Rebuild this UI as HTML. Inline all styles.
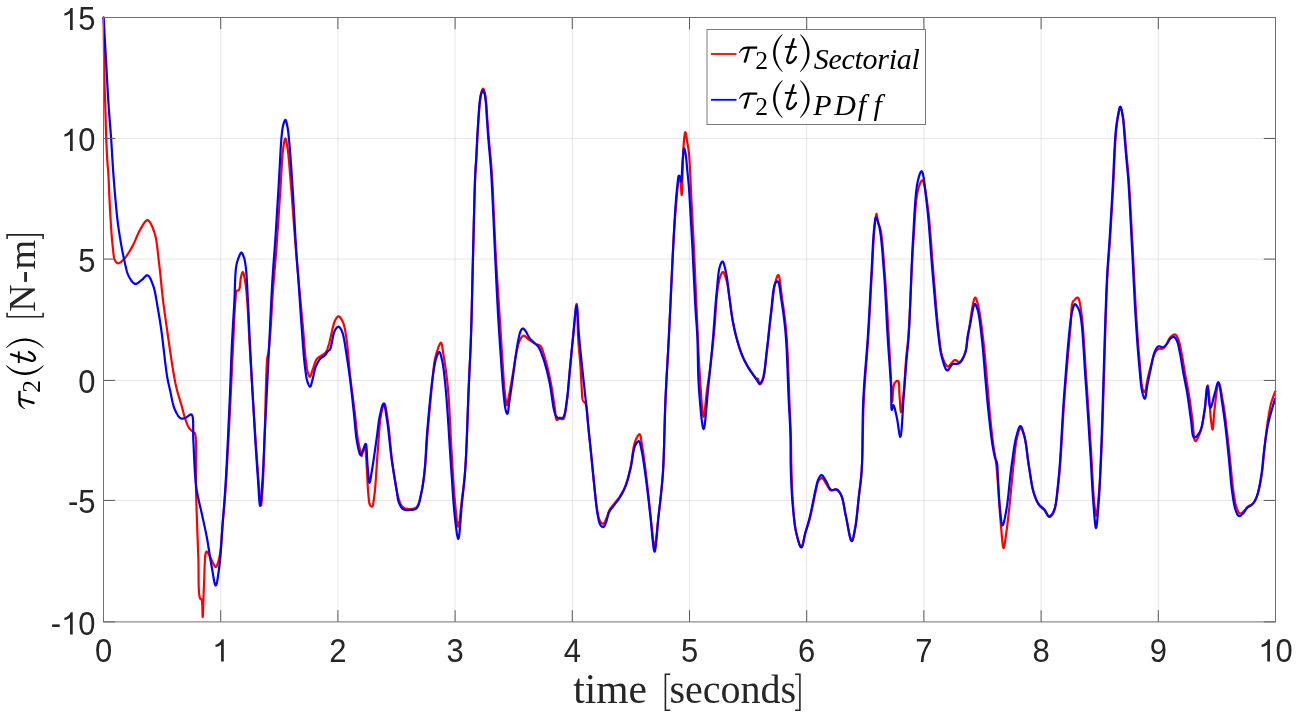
<!DOCTYPE html>
<html><head><meta charset="utf-8"><style>
html,body{margin:0;padding:0;background:#fff;overflow:hidden;}
svg{display:block;will-change:transform;}
.tk text{font-family:"Liberation Sans",sans-serif;font-size:31px;} .tk{fill:#262626;}
</style></head><body>
<svg width="1296" height="719" viewBox="0 0 1296 719">
<rect width="1296" height="719" fill="#fff"/>
<g fill="none" stroke-width="2.2" stroke-linejoin="round" stroke-linecap="round">
<path d="M103.60,17.50 L103.62,19.57 L103.69,25.16 L103.78,33.35 L103.90,43.26 L104.04,53.96 L104.19,64.55 L104.35,74.14 L104.50,81.80 L104.60,85.87 L104.71,89.66 L104.82,93.21 L104.94,96.62 L105.06,99.93 L105.18,103.22 L105.29,106.55 L105.40,110.00 L105.50,113.53 L105.59,117.07 L105.68,120.61 L105.77,124.15 L105.86,127.68 L105.96,131.20 L106.07,134.71 L106.20,138.20 L106.35,141.73 L106.51,145.45 L106.70,149.24 L106.88,152.97 L107.07,156.54 L107.26,159.81 L107.44,162.67 L107.60,165.00 L107.66,165.78 L107.73,166.41 L107.79,166.94 L107.85,167.43 L107.91,167.93 L107.97,168.49 L108.03,169.16 L108.10,170.00 L108.33,173.62 L108.58,178.52 L108.85,184.37 L109.14,190.85 L109.44,197.61 L109.75,204.33 L110.08,210.67 L110.40,216.30 L110.66,220.45 L110.92,224.55 L111.18,228.57 L111.45,232.48 L111.73,236.25 L112.03,239.84 L112.35,243.24 L112.70,246.40 L112.93,248.47 L113.13,250.51 L113.33,252.49 L113.55,254.37 L113.80,256.12 L114.11,257.72 L114.50,259.12 L115.00,260.30 L115.32,260.87 L115.65,261.41 L116.01,261.91 L116.39,262.35 L116.78,262.73 L117.20,263.02 L117.64,263.21 L118.10,263.30 L118.76,263.22 L119.49,262.93 L120.27,262.46 L121.07,261.84 L121.89,261.12 L122.71,260.34 L123.52,259.52 L124.30,258.70 L125.34,257.51 L126.38,256.17 L127.42,254.71 L128.44,253.15 L129.45,251.52 L130.45,249.83 L131.44,248.12 L132.40,246.40 L133.46,244.35 L134.48,242.15 L135.48,239.84 L136.45,237.51 L137.43,235.19 L138.42,232.96 L139.44,230.88 L140.50,229.00 L141.35,227.58 L142.22,226.09 L143.11,224.59 L144.01,223.19 L144.90,221.96 L145.79,221.00 L146.66,220.38 L147.50,220.20 L148.43,220.57 L149.37,221.47 L150.29,222.81 L151.20,224.47 L152.08,226.37 L152.91,228.41 L153.69,230.49 L154.40,232.50 L155.30,235.55 L156.04,238.94 L156.65,242.59 L157.17,246.45 L157.63,250.44 L158.07,254.50 L158.52,258.58 L159.00,262.60 L159.55,267.10 L160.07,271.76 L160.56,276.50 L161.04,281.30 L161.51,286.10 L161.99,290.85 L162.48,295.50 L163.00,300.00 L163.48,303.87 L163.96,307.59 L164.44,311.21 L164.93,314.81 L165.44,318.43 L165.97,322.13 L166.52,325.96 L167.10,330.00 L167.89,335.50 L168.75,341.52 L169.67,347.84 L170.61,354.24 L171.54,360.51 L172.45,366.42 L173.32,371.76 L174.10,376.30 L174.48,378.40 L174.84,380.28 L175.18,382.00 L175.51,383.61 L175.84,385.16 L176.20,386.70 L176.58,388.30 L177.00,390.00 L177.52,391.96 L178.08,393.98 L178.69,396.02 L179.31,398.07 L179.94,400.12 L180.55,402.13 L181.15,404.10 L181.70,406.00 L182.14,407.59 L182.55,409.15 L182.94,410.68 L183.32,412.19 L183.71,413.67 L184.11,415.13 L184.54,416.57 L185.00,418.00 L185.45,419.34 L185.91,420.70 L186.37,422.07 L186.86,423.40 L187.36,424.69 L187.90,425.90 L188.48,427.01 L189.10,428.00 L189.61,428.65 L190.17,429.25 L190.77,429.80 L191.38,430.30 L191.97,430.76 L192.54,431.20 L193.06,431.61 L193.50,432.00 L193.73,432.20 L193.94,432.35 L194.14,432.48 L194.33,432.60 L194.51,432.74 L194.67,432.92 L194.84,433.17 L195.00,433.50 L195.66,436.62 L196.02,441.77 L196.16,448.50 L196.14,456.35 L196.04,464.88 L195.94,473.63 L195.90,482.16 L196.00,490.00 L196.23,498.18 L196.49,506.65 L196.78,515.30 L197.08,523.98 L197.39,532.59 L197.71,541.00 L198.01,549.08 L198.30,556.70 L198.46,562.77 L198.53,569.18 L198.56,575.62 L198.61,581.82 L198.73,587.47 L198.97,592.30 L199.37,596.00 L200.00,598.30 L200.17,598.57 L200.36,598.74 L200.56,598.85 L200.76,598.93 L200.96,599.00 L201.15,599.10 L201.34,599.26 L201.50,599.50 L201.89,600.93 L202.16,603.23 L202.33,606.07 L202.43,609.14 L202.48,612.09 L202.53,614.60 L202.59,616.35 L202.70,617.00 L202.87,616.07 L203.02,613.51 L203.17,609.72 L203.30,605.04 L203.45,599.86 L203.60,594.55 L203.79,589.47 L204.00,585.00 L204.20,580.41 L204.36,575.19 L204.51,569.70 L204.69,564.32 L204.94,559.44 L205.30,555.42 L205.80,552.65 L206.50,551.50 L206.87,551.58 L207.29,551.95 L207.73,552.55 L208.20,553.31 L208.67,554.17 L209.14,555.07 L209.58,555.93 L210.00,556.70 L210.41,557.46 L210.79,558.25 L211.17,559.07 L211.53,559.90 L211.89,560.72 L212.25,561.52 L212.62,562.28 L213.00,563.00 L213.33,563.61 L213.67,564.28 L214.01,564.96 L214.35,565.61 L214.69,566.18 L215.03,566.63 L215.37,566.92 L215.70,567.00 L216.16,566.74 L216.63,566.11 L217.09,565.17 L217.54,563.97 L217.99,562.60 L218.41,561.10 L218.82,559.55 L219.20,558.00 L219.84,554.74 L220.38,550.87 L220.85,546.54 L221.25,541.90 L221.62,537.08 L221.97,532.23 L222.32,527.49 L222.70,523.00 L223.08,518.91 L223.44,514.97 L223.79,511.10 L224.14,507.21 L224.48,503.23 L224.82,499.09 L225.16,494.71 L225.50,490.00 L226.01,482.51 L226.52,474.39 L227.03,465.77 L227.54,456.78 L228.04,447.58 L228.54,438.29 L229.03,429.05 L229.50,420.00 L229.98,410.60 L230.45,400.95 L230.92,391.17 L231.38,381.38 L231.82,371.74 L232.26,362.35 L232.69,353.36 L233.10,344.90 L233.40,338.59 L233.68,332.26 L233.95,326.03 L234.22,320.02 L234.49,314.36 L234.77,309.15 L235.07,304.53 L235.40,300.60 L235.54,298.96 L235.64,297.38 L235.73,295.91 L235.83,294.55 L235.96,293.33 L236.15,292.29 L236.43,291.44 L236.80,290.80 L237.02,290.61 L237.28,290.51 L237.55,290.47 L237.84,290.46 L238.12,290.45 L238.40,290.41 L238.67,290.30 L238.90,290.10 L239.36,289.19 L239.71,287.81 L239.96,286.09 L240.16,284.15 L240.33,282.15 L240.51,280.20 L240.72,278.44 L241.00,277.00 L241.21,276.20 L241.43,275.36 L241.65,274.54 L241.88,273.77 L242.11,273.09 L242.35,272.56 L242.58,272.22 L242.80,272.10 L243.10,272.35 L243.40,273.02 L243.70,274.02 L244.00,275.26 L244.29,276.68 L244.58,278.18 L244.85,279.68 L245.10,281.10 L245.44,283.12 L245.74,285.25 L246.01,287.51 L246.27,289.88 L246.51,292.37 L246.74,294.99 L246.97,297.73 L247.20,300.60 L247.54,305.24 L247.85,310.30 L248.14,315.68 L248.42,321.32 L248.70,327.14 L248.98,333.06 L249.28,339.01 L249.60,344.90 L249.99,351.48 L250.39,358.20 L250.80,365.02 L251.23,371.93 L251.66,378.90 L252.10,385.92 L252.55,392.96 L253.00,400.00 L253.47,407.44 L253.95,415.02 L254.44,422.68 L254.93,430.36 L255.43,438.00 L255.94,445.53 L256.47,452.88 L257.00,460.00 L257.49,466.61 L258.01,473.95 L258.54,481.52 L259.08,488.83 L259.61,495.38 L260.12,500.67 L260.58,504.21 L261.00,505.50 L261.22,505.11 L261.42,504.01 L261.62,502.35 L261.81,500.24 L261.98,497.83 L262.16,495.23 L262.33,492.57 L262.50,490.00 L262.79,485.17 L263.07,479.70 L263.33,473.71 L263.57,467.31 L263.81,460.62 L264.04,453.76 L264.27,446.85 L264.50,440.00 L264.77,431.42 L265.03,421.97 L265.28,412.06 L265.53,402.11 L265.77,392.52 L266.02,383.69 L266.26,376.05 L266.50,370.00 L266.59,367.99 L266.68,366.20 L266.76,364.59 L266.84,363.12 L266.93,361.76 L267.03,360.47 L267.15,359.23 L267.30,358.00 L267.43,357.17 L267.57,356.44 L267.72,355.76 L267.87,355.11 L268.03,354.44 L268.19,353.72 L268.35,352.92 L268.50,352.00 L268.77,349.96 L269.03,347.63 L269.28,345.06 L269.53,342.28 L269.78,339.34 L270.02,336.29 L270.26,333.16 L270.50,330.00 L270.82,325.57 L271.12,320.84 L271.42,315.87 L271.71,310.74 L272.01,305.52 L272.32,300.28 L272.65,295.08 L273.00,290.00 L273.37,285.07 L273.77,280.24 L274.17,275.45 L274.59,270.64 L275.02,265.75 L275.44,260.72 L275.87,255.49 L276.30,250.00 L276.86,242.32 L277.44,233.98 L278.04,225.22 L278.63,216.28 L279.22,207.38 L279.78,198.76 L280.31,190.66 L280.80,183.30 L281.10,178.47 L281.35,173.76 L281.58,169.21 L281.81,164.84 L282.04,160.70 L282.31,156.83 L282.62,153.25 L283.00,150.00 L283.26,148.11 L283.54,146.15 L283.84,144.23 L284.16,142.43 L284.47,140.86 L284.79,139.62 L285.10,138.80 L285.40,138.50 L285.67,138.73 L285.94,139.39 L286.20,140.40 L286.47,141.67 L286.73,143.15 L286.99,144.74 L287.25,146.39 L287.50,148.00 L287.95,151.26 L288.38,154.98 L288.79,159.10 L289.19,163.54 L289.58,168.25 L289.97,173.16 L290.38,178.20 L290.80,183.30 L291.41,190.75 L292.04,198.89 L292.69,207.52 L293.34,216.39 L294.00,225.31 L294.65,234.03 L295.28,242.33 L295.90,250.00 L296.36,255.49 L296.82,260.73 L297.27,265.77 L297.72,270.67 L298.16,275.49 L298.60,280.28 L299.05,285.10 L299.50,290.00 L299.95,294.92 L300.41,299.87 L300.87,304.82 L301.34,309.76 L301.79,314.65 L302.24,319.49 L302.68,324.25 L303.10,328.90 L303.46,333.05 L303.79,337.26 L304.12,341.46 L304.44,345.58 L304.76,349.56 L305.09,353.33 L305.44,356.84 L305.80,360.00 L306.03,361.81 L306.25,363.54 L306.47,365.17 L306.70,366.72 L306.94,368.17 L307.20,369.54 L307.49,370.81 L307.80,372.00 L308.02,372.77 L308.25,373.57 L308.49,374.36 L308.74,375.09 L309.00,375.74 L309.26,376.25 L309.53,376.58 L309.80,376.70 L310.16,376.47 L310.52,375.86 L310.90,374.96 L311.29,373.83 L311.68,372.58 L312.08,371.28 L312.49,370.03 L312.90,368.90 L313.36,367.67 L313.80,366.34 L314.25,364.96 L314.71,363.58 L315.19,362.24 L315.71,360.99 L316.28,359.86 L316.90,358.90 L317.39,358.33 L317.91,357.85 L318.45,357.43 L319.02,357.05 L319.59,356.70 L320.17,356.35 L320.74,355.99 L321.30,355.60 L321.87,355.20 L322.47,354.81 L323.07,354.44 L323.66,354.06 L324.25,353.66 L324.81,353.23 L325.33,352.75 L325.80,352.20 L326.29,351.48 L326.72,350.70 L327.10,349.85 L327.44,348.96 L327.76,348.02 L328.07,347.04 L328.38,346.03 L328.70,345.00 L329.11,343.60 L329.50,342.10 L329.87,340.53 L330.22,338.91 L330.58,337.26 L330.94,335.61 L331.31,333.98 L331.70,332.40 L332.09,330.84 L332.47,329.21 L332.85,327.57 L333.24,325.94 L333.65,324.38 L334.09,322.90 L334.57,321.57 L335.10,320.40 L335.48,319.69 L335.88,318.97 L336.29,318.28 L336.72,317.64 L337.16,317.10 L337.60,316.67 L338.05,316.39 L338.50,316.30 L339.04,316.45 L339.61,316.86 L340.19,317.47 L340.78,318.25 L341.35,319.15 L341.91,320.12 L342.43,321.12 L342.90,322.10 L343.50,323.58 L344.02,325.20 L344.47,326.94 L344.87,328.82 L345.23,330.81 L345.58,332.93 L345.93,335.16 L346.30,337.50 L346.89,341.69 L347.43,346.42 L347.94,351.56 L348.42,356.95 L348.89,362.47 L349.37,367.96 L349.87,373.28 L350.40,378.30 L350.91,382.58 L351.43,386.78 L351.97,390.92 L352.51,395.00 L353.05,399.04 L353.58,403.05 L354.10,407.03 L354.60,411.00 L355.04,414.77 L355.45,418.57 L355.85,422.38 L356.24,426.14 L356.63,429.83 L357.05,433.39 L357.50,436.80 L358.00,440.00 L358.46,442.48 L359.01,445.15 L359.60,447.85 L360.19,450.42 L360.74,452.71 L361.18,454.54 L361.49,455.75 L361.60,456.20 L361.60,456.20 L361.60,456.20 L361.60,456.20 L361.60,456.20 L361.60,456.20 L361.60,456.20 L361.60,456.20 L361.60,456.20 L361.71,455.80 L362.01,454.75 L362.45,453.26 L362.98,451.57 L363.53,449.87 L364.07,448.40 L364.55,447.37 L364.90,447.00 L365.12,447.21 L365.30,447.76 L365.44,448.58 L365.56,449.64 L365.67,450.86 L365.77,452.20 L365.87,453.59 L366.00,455.00 L366.30,458.81 L366.60,463.71 L366.89,469.35 L367.19,475.37 L367.49,481.41 L367.81,487.10 L368.14,492.08 L368.50,496.00 L368.66,497.49 L368.79,498.90 L368.92,500.20 L369.05,501.40 L369.21,502.49 L369.41,503.45 L369.67,504.29 L370.00,505.00 L370.21,505.34 L370.45,505.66 L370.71,505.95 L370.98,506.21 L371.26,506.42 L371.52,506.56 L371.77,506.63 L372.00,506.60 L372.41,506.22 L372.76,505.44 L373.06,504.33 L373.33,502.94 L373.57,501.35 L373.81,499.62 L374.05,497.82 L374.30,496.00 L374.82,491.79 L375.29,486.72 L375.73,480.99 L376.14,474.84 L376.55,468.48 L376.95,462.14 L377.37,456.04 L377.80,450.40 L378.17,445.62 L378.52,440.77 L378.85,435.92 L379.19,431.18 L379.56,426.62 L379.97,422.35 L380.45,418.44 L381.00,415.00 L381.36,413.10 L381.76,411.14 L382.17,409.23 L382.60,407.44 L383.04,405.89 L383.47,404.67 L383.90,403.88 L384.30,403.60 L384.79,404.11 L385.28,405.48 L385.76,407.53 L386.23,410.10 L386.69,413.00 L387.14,416.07 L387.58,419.13 L388.00,422.00 L388.57,426.17 L389.10,430.81 L389.60,435.77 L390.09,440.90 L390.56,446.03 L391.03,451.03 L391.50,455.74 L392.00,460.00 L392.37,462.82 L392.73,465.48 L393.09,468.02 L393.45,470.47 L393.82,472.87 L394.20,475.23 L394.59,477.60 L395.00,480.00 L395.39,482.34 L395.77,484.73 L396.15,487.12 L396.55,489.48 L396.97,491.78 L397.43,493.99 L397.94,496.08 L398.50,498.00 L398.93,499.35 L399.35,500.67 L399.79,501.95 L400.25,503.17 L400.75,504.31 L401.32,505.34 L401.96,506.24 L402.70,507.00 L403.43,507.53 L404.23,507.96 L405.10,508.31 L406.01,508.58 L406.94,508.78 L407.88,508.91 L408.81,508.98 L409.70,509.00 L410.59,508.98 L411.50,508.93 L412.42,508.82 L413.34,508.65 L414.23,508.39 L415.09,508.04 L415.88,507.58 L416.60,507.00 L417.49,505.90 L418.25,504.51 L418.89,502.88 L419.44,501.06 L419.94,499.11 L420.39,497.08 L420.84,495.02 L421.30,493.00 L421.87,490.45 L422.37,487.80 L422.82,485.05 L423.24,482.21 L423.62,479.27 L423.99,476.26 L424.34,473.17 L424.70,470.00 L425.12,465.95 L425.48,461.77 L425.81,457.47 L426.12,453.04 L426.43,448.47 L426.75,443.78 L427.10,438.96 L427.50,434.00 L428.09,427.17 L428.75,419.62 L429.45,411.65 L430.19,403.57 L430.91,395.70 L431.61,388.32 L432.24,381.75 L432.80,376.30 L433.04,374.02 L433.26,371.93 L433.46,370.01 L433.66,368.23 L433.85,366.56 L434.05,364.99 L434.27,363.48 L434.50,362.00 L434.66,361.01 L434.82,360.11 L434.97,359.26 L435.12,358.45 L435.30,357.64 L435.49,356.81 L435.73,355.94 L436.00,355.00 L436.47,353.44 L437.05,351.56 L437.70,349.51 L438.39,347.47 L439.08,345.60 L439.76,344.08 L440.37,343.05 L440.90,342.70 L441.33,343.05 L441.70,343.95 L442.03,345.29 L442.33,346.97 L442.61,348.89 L442.89,350.94 L443.19,353.01 L443.50,355.00 L444.05,358.28 L444.62,361.85 L445.20,365.70 L445.78,369.79 L446.35,374.09 L446.90,378.56 L447.42,383.17 L447.90,387.90 L448.48,394.76 L449.00,402.20 L449.45,410.04 L449.87,418.14 L450.27,426.34 L450.66,434.49 L451.07,442.43 L451.50,450.00 L451.90,456.62 L452.28,463.25 L452.66,469.84 L453.04,476.32 L453.44,482.64 L453.85,488.73 L454.31,494.54 L454.80,500.00 L455.19,504.11 L455.61,508.52 L456.05,512.98 L456.49,517.21 L456.95,520.97 L457.40,523.98 L457.86,525.98 L458.30,526.70 L458.74,525.93 L459.18,523.82 L459.62,520.67 L460.07,516.79 L460.51,512.48 L460.94,508.04 L461.38,503.78 L461.80,500.00 L462.25,496.44 L462.69,492.97 L463.14,489.54 L463.58,486.04 L464.01,482.42 L464.43,478.59 L464.82,474.48 L465.20,470.00 L465.77,461.55 L466.28,451.89 L466.73,441.36 L467.16,430.32 L467.55,419.10 L467.93,408.06 L468.31,397.54 L468.70,387.90 L469.01,380.92 L469.32,374.33 L469.62,368.02 L469.91,361.85 L470.20,355.69 L470.48,349.42 L470.74,342.90 L471.00,336.00 L471.29,327.12 L471.56,317.88 L471.81,308.36 L472.05,298.63 L472.28,288.75 L472.51,278.81 L472.75,268.87 L473.00,259.00 L473.27,248.33 L473.53,236.96 L473.80,225.27 L474.07,213.66 L474.34,202.54 L474.62,192.29 L474.90,183.31 L475.20,176.00 L475.33,173.40 L475.47,171.15 L475.61,169.15 L475.75,167.31 L475.89,165.56 L476.03,163.80 L476.17,161.94 L476.30,159.90 L476.45,157.34 L476.59,154.68 L476.72,151.95 L476.86,149.19 L476.99,146.41 L477.12,143.65 L477.26,140.94 L477.40,138.30 L477.53,135.94 L477.66,133.61 L477.79,131.32 L477.93,129.04 L478.06,126.78 L478.20,124.53 L478.35,122.27 L478.50,120.00 L478.66,117.70 L478.81,115.35 L478.98,112.99 L479.14,110.63 L479.32,108.32 L479.50,106.09 L479.69,103.97 L479.90,102.00 L480.05,100.64 L480.19,99.30 L480.33,98.01 L480.48,96.78 L480.64,95.60 L480.83,94.49 L481.05,93.45 L481.30,92.50 L481.49,91.88 L481.71,91.23 L481.93,90.59 L482.17,90.00 L482.41,89.48 L482.65,89.06 L482.88,88.79 L483.10,88.70 L483.31,88.80 L483.53,89.07 L483.74,89.49 L483.95,90.01 L484.15,90.60 L484.34,91.24 L484.53,91.88 L484.70,92.50 L484.94,93.47 L485.15,94.53 L485.34,95.67 L485.50,96.87 L485.66,98.14 L485.81,99.46 L485.95,100.81 L486.10,102.20 L486.29,104.16 L486.47,106.26 L486.63,108.47 L486.79,110.75 L486.94,113.07 L487.09,115.41 L487.24,117.73 L487.40,120.00 L487.57,122.27 L487.73,124.52 L487.90,126.78 L488.07,129.04 L488.24,131.32 L488.42,133.61 L488.60,135.94 L488.80,138.30 L489.03,140.94 L489.28,143.65 L489.54,146.41 L489.81,149.19 L490.08,151.95 L490.33,154.68 L490.58,157.34 L490.80,159.90 L490.97,161.94 L491.13,163.80 L491.27,165.56 L491.41,167.31 L491.55,169.15 L491.69,171.15 L491.84,173.40 L492.00,176.00 L492.41,183.40 L492.87,192.60 L493.35,203.12 L493.86,214.49 L494.39,226.23 L494.93,237.88 L495.47,248.96 L496.00,259.00 L496.44,266.56 L496.89,273.90 L497.35,281.05 L497.81,288.03 L498.27,294.89 L498.72,301.64 L499.17,308.34 L499.60,315.00 L499.98,321.03 L500.35,327.03 L500.72,332.98 L501.08,338.85 L501.44,344.61 L501.79,350.24 L502.15,355.71 L502.50,361.00 L502.78,365.26 L503.05,369.48 L503.32,373.64 L503.59,377.70 L503.86,381.60 L504.15,385.31 L504.46,388.79 L504.80,392.00 L505.04,394.11 L505.29,396.34 L505.55,398.56 L505.82,400.66 L506.09,402.50 L506.36,403.97 L506.63,404.94 L506.90,405.30 L507.10,405.10 L507.30,404.53 L507.50,403.68 L507.70,402.63 L507.90,401.46 L508.10,400.24 L508.30,399.06 L508.50,398.00 L508.72,396.90 L508.94,395.79 L509.16,394.67 L509.38,393.53 L509.60,392.35 L509.82,391.13 L510.06,389.85 L510.30,388.50 L510.66,386.48 L511.05,384.30 L511.45,382.00 L511.86,379.62 L512.28,377.19 L512.69,374.75 L513.10,372.34 L513.50,370.00 L513.88,367.71 L514.24,365.38 L514.60,363.03 L514.95,360.70 L515.32,358.41 L515.69,356.17 L516.08,354.03 L516.50,352.00 L516.84,350.45 L517.19,348.91 L517.55,347.41 L517.92,345.96 L518.30,344.58 L518.68,343.28 L519.09,342.08 L519.50,341.00 L519.77,340.37 L520.04,339.78 L520.32,339.22 L520.60,338.69 L520.88,338.21 L521.18,337.77 L521.48,337.36 L521.80,337.00 L522.04,336.76 L522.28,336.52 L522.52,336.31 L522.77,336.11 L523.03,335.95 L523.28,335.82 L523.54,335.73 L523.80,335.70 L524.07,335.73 L524.34,335.82 L524.61,335.96 L524.89,336.14 L525.17,336.34 L525.44,336.56 L525.72,336.79 L526.00,337.00 L526.33,337.26 L526.64,337.55 L526.96,337.86 L527.27,338.18 L527.60,338.51 L527.94,338.84 L528.31,339.17 L528.70,339.50 L529.28,339.94 L529.92,340.40 L530.60,340.87 L531.31,341.34 L532.02,341.80 L532.72,342.24 L533.39,342.64 L534.00,343.00 L534.41,343.23 L534.81,343.45 L535.19,343.66 L535.56,343.85 L535.92,344.03 L536.28,344.20 L536.64,344.35 L537.00,344.50 L537.31,344.61 L537.63,344.69 L537.94,344.76 L538.25,344.82 L538.55,344.88 L538.85,344.96 L539.13,345.06 L539.40,345.20 L539.66,345.37 L539.91,345.55 L540.15,345.76 L540.38,345.98 L540.60,346.21 L540.81,346.46 L541.01,346.73 L541.20,347.00 L541.40,347.33 L541.57,347.66 L541.73,348.00 L541.87,348.37 L542.01,348.77 L542.16,349.20 L542.32,349.67 L542.50,350.20 L542.95,351.54 L543.47,353.15 L544.04,354.97 L544.64,356.96 L545.25,359.05 L545.86,361.21 L546.45,363.38 L547.00,365.50 L547.62,368.01 L548.23,370.61 L548.84,373.29 L549.43,376.02 L550.01,378.78 L550.56,381.55 L551.09,384.29 L551.60,387.00 L552.07,389.67 L552.51,392.40 L552.93,395.14 L553.33,397.87 L553.71,400.56 L554.09,403.16 L554.45,405.66 L554.80,408.00 L555.03,409.80 L555.22,411.71 L555.39,413.64 L555.56,415.49 L555.75,417.14 L555.99,418.52 L556.30,419.50 L556.70,420.00 L556.90,420.04 L557.12,420.00 L557.35,419.90 L557.58,419.75 L557.82,419.56 L558.06,419.36 L558.29,419.17 L558.50,419.00 L558.70,418.82 L558.90,418.59 L559.09,418.34 L559.27,418.09 L559.45,417.86 L559.63,417.68 L559.81,417.55 L560.00,417.50 L560.18,417.55 L560.36,417.70 L560.54,417.91 L560.72,418.16 L560.90,418.42 L561.09,418.66 L561.29,418.87 L561.50,419.00 L561.71,419.08 L561.93,419.16 L562.16,419.21 L562.40,419.25 L562.63,419.25 L562.86,419.22 L563.09,419.14 L563.30,419.00 L563.88,418.19 L564.39,416.83 L564.84,415.03 L565.25,412.89 L565.63,410.51 L565.99,408.00 L566.34,405.46 L566.70,403.00 L567.20,399.37 L567.66,395.40 L568.08,391.19 L568.47,386.80 L568.85,382.32 L569.22,377.80 L569.60,373.34 L570.00,369.00 L570.41,364.74 L570.82,360.46 L571.23,356.18 L571.64,351.90 L572.05,347.63 L572.46,343.39 L572.88,339.17 L573.30,335.00 L573.72,330.63 L574.15,325.69 L574.60,320.54 L575.04,315.53 L575.48,311.01 L575.89,307.35 L576.27,304.89 L576.60,304.00 L576.90,305.10 L577.14,308.07 L577.34,312.47 L577.51,317.83 L577.68,323.72 L577.86,329.68 L578.06,335.26 L578.30,340.00 L578.55,343.58 L578.82,347.08 L579.11,350.51 L579.41,353.88 L579.71,357.20 L579.99,360.49 L580.26,363.75 L580.50,367.00 L580.70,370.03 L580.88,373.13 L581.05,376.22 L581.21,379.28 L581.36,382.23 L581.51,385.04 L581.65,387.64 L581.80,390.00 L581.88,391.37 L581.94,392.68 L582.00,393.95 L582.06,395.14 L582.13,396.25 L582.22,397.27 L582.34,398.19 L582.50,399.00 L582.60,399.37 L582.70,399.69 L582.81,399.99 L582.92,400.26 L583.04,400.51 L583.18,400.77 L583.33,401.03 L583.50,401.30 L583.73,401.62 L584.01,401.89 L584.31,402.16 L584.62,402.43 L584.94,402.73 L585.25,403.08 L585.54,403.49 L585.80,404.00 L586.34,405.75 L586.76,408.07 L587.09,410.83 L587.35,413.91 L587.57,417.19 L587.78,420.55 L588.01,423.86 L588.30,427.00 L588.66,430.36 L589.01,433.78 L589.38,437.26 L589.74,440.77 L590.11,444.31 L590.47,447.87 L590.84,451.43 L591.20,455.00 L591.57,458.72 L591.94,462.49 L592.31,466.30 L592.68,470.11 L593.05,473.91 L593.43,477.67 L593.81,481.38 L594.20,485.00 L594.55,488.31 L594.90,491.65 L595.25,495.00 L595.60,498.29 L595.96,501.48 L596.35,504.53 L596.76,507.38 L597.20,510.00 L597.50,511.65 L597.78,513.26 L598.07,514.82 L598.36,516.29 L598.69,517.66 L599.06,518.92 L599.50,520.04 L600.00,521.00 L600.36,521.54 L600.76,522.07 L601.18,522.57 L601.61,523.01 L602.06,523.37 L602.49,523.64 L602.91,523.79 L603.30,523.80 L603.75,523.57 L604.18,523.10 L604.59,522.43 L604.99,521.61 L605.38,520.71 L605.76,519.77 L606.13,518.85 L606.50,518.00 L606.89,517.06 L607.25,516.07 L607.59,515.04 L607.93,513.99 L608.27,512.95 L608.63,511.92 L609.04,510.93 L609.50,510.00 L609.98,509.19 L610.50,508.41 L611.04,507.67 L611.61,506.95 L612.20,506.23 L612.79,505.51 L613.40,504.77 L614.00,504.00 L614.69,503.12 L615.41,502.23 L616.15,501.34 L616.89,500.44 L617.64,499.51 L618.38,498.55 L619.10,497.55 L619.80,496.50 L620.59,495.23 L621.38,493.91 L622.15,492.54 L622.91,491.13 L623.65,489.67 L624.36,488.17 L625.05,486.61 L625.70,485.00 L626.43,482.99 L627.12,480.90 L627.76,478.72 L628.36,476.48 L628.94,474.18 L629.50,471.83 L630.05,469.43 L630.60,467.00 L631.19,463.98 L631.71,460.70 L632.18,457.29 L632.64,453.84 L633.12,450.47 L633.66,447.30 L634.27,444.44 L635.00,442.00 L635.51,440.66 L636.08,439.29 L636.68,437.96 L637.30,436.73 L637.91,435.67 L638.49,434.86 L639.03,434.34 L639.50,434.20 L639.94,434.54 L640.31,435.35 L640.64,436.55 L640.92,438.03 L641.19,439.71 L641.45,441.50 L641.71,443.29 L642.00,445.00 L642.46,447.62 L642.91,450.50 L643.36,453.59 L643.80,456.81 L644.24,460.13 L644.67,463.47 L645.09,466.78 L645.50,470.00 L645.90,473.23 L646.30,476.49 L646.68,479.75 L647.06,483.03 L647.43,486.30 L647.79,489.56 L648.15,492.80 L648.50,496.00 L648.82,499.04 L649.13,502.04 L649.43,505.02 L649.72,507.99 L650.01,510.96 L650.32,513.95 L650.65,516.95 L651.00,520.00 L651.40,523.60 L651.83,527.75 L652.28,532.13 L652.74,536.43 L653.20,540.32 L653.67,543.49 L654.14,545.62 L654.60,546.40 L655.09,545.46 L655.60,542.92 L656.11,539.17 L656.62,534.60 L657.12,529.61 L657.61,524.58 L658.07,519.91 L658.50,516.00 L658.83,513.32 L659.14,510.77 L659.43,508.31 L659.71,505.91 L659.99,503.51 L660.26,501.09 L660.53,498.60 L660.80,496.00 L661.11,493.00 L661.41,490.04 L661.72,487.06 L662.01,484.01 L662.30,480.84 L662.58,477.48 L662.85,473.89 L663.10,470.00 L663.47,462.81 L663.79,454.69 L664.07,445.89 L664.33,436.62 L664.59,427.12 L664.85,417.59 L665.15,408.28 L665.50,399.40 L665.87,391.40 L666.26,383.62 L666.68,375.96 L667.11,368.32 L667.55,360.60 L668.00,352.71 L668.45,344.54 L668.90,336.00 L669.47,324.56 L670.05,312.13 L670.65,299.12 L671.26,285.92 L671.86,272.95 L672.46,260.60 L673.04,249.28 L673.60,239.40 L673.92,234.20 L674.23,229.37 L674.54,224.85 L674.85,220.58 L675.15,216.51 L675.46,212.58 L675.78,208.73 L676.10,204.90 L676.36,201.80 L676.60,198.68 L676.85,195.60 L677.10,192.62 L677.36,189.79 L677.64,187.17 L677.95,184.82 L678.30,182.80 L678.50,181.83 L678.71,180.86 L678.93,179.91 L679.16,179.04 L679.38,178.29 L679.60,177.70 L679.81,177.32 L680.00,177.20 L680.30,177.99 L680.56,180.02 L680.79,182.87 L681.00,186.14 L681.19,189.40 L681.37,192.24 L681.53,194.24 L681.70,195.00 L681.90,194.05 L682.06,191.47 L682.20,187.66 L682.32,183.00 L682.43,177.91 L682.54,172.76 L682.66,167.96 L682.80,163.90 L682.92,160.88 L683.03,157.87 L683.15,154.89 L683.26,151.98 L683.39,149.18 L683.53,146.51 L683.70,144.00 L683.90,141.70 L684.05,140.19 L684.20,138.60 L684.36,137.01 L684.54,135.52 L684.72,134.20 L684.90,133.15 L685.10,132.45 L685.30,132.20 L685.52,132.47 L685.75,133.21 L685.99,134.33 L686.24,135.71 L686.49,137.24 L686.74,138.82 L686.97,140.34 L687.20,141.70 L687.43,143.03 L687.67,144.36 L687.90,145.70 L688.12,147.05 L688.33,148.43 L688.53,149.84 L688.72,151.30 L688.90,152.80 L689.09,154.67 L689.25,156.57 L689.39,158.50 L689.51,160.50 L689.63,162.57 L689.75,164.73 L689.87,167.00 L690.00,169.40 L690.21,173.17 L690.41,177.24 L690.62,181.55 L690.82,186.05 L691.03,190.69 L691.25,195.41 L691.47,200.17 L691.70,204.90 L691.97,210.18 L692.24,215.46 L692.52,220.78 L692.80,226.21 L693.09,231.79 L693.39,237.58 L693.69,243.63 L694.00,250.00 L694.45,259.70 L694.93,270.48 L695.43,281.96 L695.94,293.73 L696.44,305.41 L696.93,316.61 L697.38,326.94 L697.80,336.00 L698.03,340.96 L698.22,345.46 L698.40,349.65 L698.58,353.63 L698.77,357.54 L698.97,361.49 L699.21,365.60 L699.50,370.00 L699.90,376.13 L700.36,383.37 L700.85,391.11 L701.38,398.78 L701.93,405.77 L702.49,411.50 L703.05,415.37 L703.60,416.80 L704.01,416.01 L704.43,413.86 L704.85,410.64 L705.27,406.70 L705.70,402.34 L706.13,397.89 L706.56,393.67 L707.00,390.00 L707.43,386.86 L707.87,383.79 L708.31,380.75 L708.75,377.71 L709.20,374.65 L709.64,371.53 L710.07,368.32 L710.50,365.00 L711.00,360.93 L711.49,356.72 L711.99,352.41 L712.47,348.02 L712.95,343.56 L713.41,339.06 L713.86,334.53 L714.30,330.00 L714.73,324.99 L715.11,319.71 L715.46,314.29 L715.81,308.87 L716.17,303.60 L716.56,298.61 L717.00,294.03 L717.50,290.00 L717.82,287.84 L718.15,285.77 L718.49,283.82 L718.84,281.99 L719.22,280.28 L719.61,278.71 L720.04,277.28 L720.50,276.00 L720.79,275.29 L721.09,274.57 L721.40,273.87 L721.71,273.23 L722.04,272.68 L722.36,272.25 L722.68,271.98 L723.00,271.90 L723.43,272.14 L723.87,272.74 L724.32,273.63 L724.76,274.74 L725.20,276.01 L725.62,277.35 L726.02,278.71 L726.40,280.00 L726.89,281.88 L727.33,283.93 L727.73,286.12 L728.10,288.42 L728.45,290.79 L728.79,293.19 L729.14,295.61 L729.50,298.00 L729.89,300.66 L730.27,303.39 L730.63,306.17 L730.98,308.99 L731.35,311.80 L731.73,314.59 L732.15,317.33 L732.60,320.00 L733.05,322.40 L733.51,324.78 L733.99,327.12 L734.48,329.44 L735.00,331.73 L735.54,334.01 L736.11,336.26 L736.70,338.50 L737.29,340.64 L737.89,342.77 L738.51,344.89 L739.16,346.99 L739.83,349.06 L740.52,351.09 L741.25,353.08 L742.00,355.00 L742.70,356.68 L743.43,358.34 L744.18,359.96 L744.96,361.54 L745.75,363.09 L746.55,364.60 L747.37,366.07 L748.20,367.50 L748.97,368.76 L749.80,370.03 L750.65,371.29 L751.51,372.50 L752.34,373.66 L753.14,374.72 L753.86,375.68 L754.50,376.50 L754.80,376.89 L755.07,377.27 L755.33,377.64 L755.57,377.97 L755.81,378.27 L756.04,378.51 L756.27,378.69 L756.50,378.80 L756.64,378.81 L756.78,378.78 L756.92,378.71 L757.06,378.63 L757.20,378.55 L757.33,378.49 L757.47,378.47 L757.60,378.50 L757.89,378.88 L758.16,379.60 L758.42,380.56 L758.67,381.62 L758.92,382.67 L759.19,383.58 L759.48,384.23 L759.80,384.50 L760.14,384.43 L760.50,384.16 L760.89,383.73 L761.29,383.15 L761.69,382.46 L762.08,381.69 L762.45,380.86 L762.80,380.00 L763.51,377.64 L764.14,374.67 L764.68,371.20 L765.17,367.37 L765.63,363.31 L766.08,359.14 L766.52,354.99 L767.00,351.00 L767.55,346.47 L768.08,341.77 L768.60,336.96 L769.11,332.08 L769.62,327.19 L770.13,322.35 L770.66,317.60 L771.20,313.00 L771.69,308.82 L772.17,304.50 L772.65,300.15 L773.13,295.89 L773.64,291.84 L774.18,288.09 L774.76,284.78 L775.40,282.00 L775.74,280.76 L776.10,279.52 L776.47,278.33 L776.85,277.25 L777.23,276.32 L777.60,275.60 L777.96,275.14 L778.30,275.00 L778.83,275.66 L779.32,277.35 L779.78,279.86 L780.21,282.96 L780.63,286.45 L781.05,290.10 L781.47,293.69 L781.90,297.00 L782.48,301.04 L783.08,305.21 L783.68,309.52 L784.28,313.98 L784.86,318.60 L785.41,323.38 L785.93,328.35 L786.40,333.50 L786.95,341.01 L787.42,349.24 L787.84,357.94 L788.20,366.87 L788.52,375.79 L788.82,384.45 L789.11,392.60 L789.40,400.00 L789.61,404.81 L789.81,409.32 L790.00,413.62 L790.18,417.75 L790.35,421.81 L790.51,425.86 L790.66,429.96 L790.80,434.20 L790.92,438.64 L791.01,443.11 L791.08,447.59 L791.14,452.08 L791.21,456.58 L791.28,461.07 L791.38,465.55 L791.50,470.00 L791.63,474.39 L791.77,478.81 L791.91,483.23 L792.06,487.63 L792.24,492.00 L792.45,496.31 L792.70,500.55 L793.00,504.70 L793.29,508.39 L793.58,512.09 L793.89,515.77 L794.23,519.39 L794.61,522.91 L795.06,526.29 L795.59,529.50 L796.20,532.50 L796.73,534.76 L797.33,537.18 L797.98,539.60 L798.66,541.90 L799.35,543.93 L800.03,545.55 L800.69,546.62 L801.30,547.00 L801.85,546.58 L802.38,545.46 L802.89,543.80 L803.38,541.76 L803.88,539.50 L804.37,537.18 L804.88,534.96 L805.40,533.00 L805.96,531.18 L806.53,529.39 L807.11,527.61 L807.69,525.82 L808.27,523.98 L808.86,522.08 L809.43,520.10 L810.00,518.00 L810.75,514.92 L811.51,511.51 L812.28,507.89 L813.03,504.18 L813.77,500.51 L814.48,497.01 L815.16,493.80 L815.80,491.00 L816.15,489.47 L816.44,487.99 L816.72,486.59 L816.99,485.27 L817.28,484.03 L817.61,482.91 L818.01,481.89 L818.50,481.00 L818.88,480.45 L819.30,479.90 L819.75,479.39 L820.22,478.94 L820.70,478.56 L821.18,478.28 L821.65,478.12 L822.10,478.10 L822.64,478.33 L823.17,478.82 L823.69,479.52 L824.21,480.37 L824.73,481.30 L825.25,482.26 L825.77,483.18 L826.30,484.00 L826.85,484.86 L827.38,485.80 L827.91,486.79 L828.44,487.76 L829.00,488.67 L829.58,489.46 L830.21,490.09 L830.90,490.50 L831.56,490.61 L832.27,490.50 L833.02,490.24 L833.80,489.91 L834.57,489.57 L835.33,489.31 L836.04,489.20 L836.70,489.30 L837.39,489.66 L838.03,490.17 L838.64,490.83 L839.22,491.60 L839.77,492.47 L840.30,493.43 L840.81,494.44 L841.30,495.50 L842.05,497.46 L842.70,499.74 L843.27,502.26 L843.79,504.97 L844.29,507.80 L844.79,510.67 L845.32,513.53 L845.90,516.30 L846.59,519.62 L847.32,523.48 L848.07,527.57 L848.82,531.60 L849.57,535.25 L850.31,538.24 L851.02,540.25 L851.70,541.00 L852.17,540.66 L852.64,539.72 L853.10,538.29 L853.55,536.49 L853.98,534.44 L854.41,532.26 L854.81,530.07 L855.20,528.00 L855.74,524.83 L856.23,521.32 L856.68,517.56 L857.11,513.62 L857.51,509.60 L857.90,505.56 L858.30,501.60 L858.70,497.80 L859.10,494.36 L859.50,491.07 L859.91,487.86 L860.30,484.63 L860.69,481.32 L861.05,477.83 L861.39,474.08 L861.70,470.00 L862.10,462.70 L862.39,454.54 L862.61,445.73 L862.79,436.49 L862.96,427.02 L863.16,417.54 L863.43,408.26 L863.80,399.40 L864.25,391.30 L864.78,383.29 L865.35,375.34 L865.96,367.44 L866.58,359.57 L867.19,351.72 L867.77,343.87 L868.30,336.00 L868.79,328.16 L869.25,320.24 L869.70,312.30 L870.13,304.38 L870.56,296.54 L870.97,288.83 L871.39,281.30 L871.80,274.00 L872.14,267.74 L872.47,261.39 L872.78,255.08 L873.10,248.90 L873.41,242.99 L873.75,237.46 L874.11,232.43 L874.50,228.00 L874.73,225.67 L874.98,223.27 L875.22,220.92 L875.48,218.74 L875.74,216.85 L875.99,215.35 L876.25,214.36 L876.50,214.00 L876.68,214.23 L876.85,214.87 L877.02,215.83 L877.19,217.00 L877.36,218.30 L877.55,219.63 L877.76,220.90 L878.00,222.00 L878.28,222.96 L878.58,223.85 L878.92,224.71 L879.26,225.58 L879.61,226.51 L879.96,227.52 L880.29,228.68 L880.60,230.00 L881.25,233.74 L881.84,238.31 L882.39,243.55 L882.91,249.29 L883.39,255.37 L883.87,261.63 L884.33,267.89 L884.80,274.00 L885.35,281.31 L885.89,289.00 L886.40,296.93 L886.90,304.99 L887.38,313.06 L887.84,320.99 L888.28,328.68 L888.70,336.00 L889.04,341.96 L889.35,347.89 L889.66,353.72 L889.95,359.43 L890.23,364.95 L890.50,370.25 L890.75,375.28 L891.00,380.00 L891.16,383.38 L891.29,387.00 L891.42,390.64 L891.54,394.09 L891.67,397.14 L891.81,399.58 L891.99,401.21 L892.20,401.80 L892.39,401.13 L892.53,399.34 L892.67,396.74 L892.85,393.67 L893.08,390.45 L893.41,387.41 L893.87,384.89 L894.50,383.20 L894.88,382.67 L895.31,382.17 L895.78,381.72 L896.27,381.35 L896.76,381.07 L897.22,380.88 L897.64,380.82 L898.00,380.90 L898.49,381.52 L898.83,382.72 L899.04,384.39 L899.16,386.38 L899.23,388.57 L899.28,390.82 L899.36,393.01 L899.50,395.00 L899.69,397.30 L899.86,399.98 L900.03,402.83 L900.20,405.64 L900.37,408.19 L900.56,410.27 L900.77,411.68 L901.00,412.20 L901.27,411.74 L901.57,410.47 L901.89,408.55 L902.23,406.14 L902.56,403.42 L902.89,400.54 L903.21,397.68 L903.50,395.00 L903.87,391.17 L904.20,386.97 L904.51,382.49 L904.80,377.86 L905.09,373.19 L905.37,368.58 L905.68,364.14 L906.00,360.00 L906.29,356.89 L906.58,354.06 L906.87,351.38 L907.18,348.72 L907.48,345.98 L907.79,343.03 L908.09,339.74 L908.40,336.00 L909.01,326.80 L909.62,315.65 L910.22,303.10 L910.84,289.74 L911.47,276.11 L912.12,262.80 L912.79,250.38 L913.50,239.40 L913.98,232.17 L914.42,224.97 L914.84,217.95 L915.29,211.22 L915.80,204.94 L916.39,199.21 L917.12,194.19 L918.00,190.00 L918.48,188.27 L918.99,186.55 L919.54,184.91 L920.11,183.43 L920.68,182.17 L921.24,181.20 L921.79,180.58 L922.30,180.40 L923.04,181.10 L923.75,182.88 L924.43,185.56 L925.08,188.91 L925.71,192.74 L926.33,196.83 L926.92,200.99 L927.50,205.00 L928.41,211.97 L929.24,219.86 L930.00,228.46 L930.72,237.53 L931.41,246.85 L932.09,256.19 L932.78,265.31 L933.50,274.00 L934.19,282.13 L934.87,290.51 L935.55,298.94 L936.22,307.27 L936.90,315.31 L937.59,322.89 L938.28,329.85 L939.00,336.00 L939.40,339.22 L939.75,342.25 L940.10,345.09 L940.45,347.76 L940.85,350.27 L941.30,352.64 L941.84,354.88 L942.50,357.00 L943.05,358.54 L943.64,360.13 L944.28,361.71 L944.96,363.19 L945.65,364.49 L946.37,365.54 L947.09,366.27 L947.80,366.60 L948.36,366.51 L948.94,366.13 L949.54,365.55 L950.14,364.82 L950.74,364.03 L951.32,363.25 L951.87,362.55 L952.40,362.00 L952.75,361.68 L953.07,361.35 L953.37,361.03 L953.68,360.73 L953.98,360.46 L954.30,360.24 L954.63,360.09 L955.00,360.00 L955.49,360.06 L956.01,360.31 L956.57,360.68 L957.14,361.10 L957.72,361.51 L958.30,361.84 L958.86,362.03 L959.40,362.00 L960.18,361.59 L960.97,360.85 L961.74,359.84 L962.50,358.63 L963.23,357.28 L963.91,355.86 L964.54,354.41 L965.10,353.00 L965.69,351.22 L966.13,349.35 L966.48,347.38 L966.76,345.31 L967.02,343.15 L967.29,340.88 L967.60,338.49 L968.00,336.00 L968.74,331.41 L969.58,325.69 L970.48,319.38 L971.43,313.00 L972.40,307.09 L973.35,302.18 L974.26,298.80 L975.10,297.50 L975.41,297.62 L975.73,298.01 L976.04,298.61 L976.35,299.38 L976.65,300.25 L976.94,301.19 L977.23,302.12 L977.50,303.00 L977.87,304.23 L978.20,305.53 L978.52,306.90 L978.82,308.35 L979.12,309.88 L979.41,311.50 L979.70,313.20 L980.00,315.00 L980.49,318.08 L980.98,321.49 L981.47,325.15 L981.96,329.00 L982.44,332.98 L982.91,337.01 L983.36,341.04 L983.80,345.00 L984.25,349.24 L984.67,353.56 L985.08,357.92 L985.47,362.33 L985.86,366.75 L986.24,371.18 L986.62,375.61 L987.00,380.00 L987.38,384.39 L987.75,388.81 L988.11,393.24 L988.48,397.67 L988.84,402.07 L989.21,406.44 L989.60,410.76 L990.00,415.00 L990.39,418.92 L990.78,422.87 L991.19,426.80 L991.60,430.68 L992.02,434.48 L992.44,438.16 L992.87,441.67 L993.30,445.00 L993.64,447.34 L993.98,449.53 L994.34,451.62 L994.70,453.64 L995.05,455.64 L995.38,457.68 L995.70,459.78 L996.00,462.00 L996.31,464.67 L996.58,467.39 L996.84,470.15 L997.07,472.98 L997.30,475.87 L997.53,478.83 L997.76,481.87 L998.00,485.00 L998.30,489.05 L998.60,493.33 L998.89,497.76 L999.18,502.29 L999.49,506.84 L999.80,511.36 L1000.14,515.76 L1000.50,520.00 L1000.85,524.03 L1001.21,528.53 L1001.58,533.18 L1001.97,537.68 L1002.37,541.72 L1002.77,544.99 L1003.18,547.19 L1003.60,548.00 L1003.89,547.66 L1004.19,546.71 L1004.49,545.27 L1004.79,543.46 L1005.09,541.41 L1005.40,539.23 L1005.70,537.05 L1006.00,535.00 L1006.44,531.96 L1006.88,528.68 L1007.32,525.19 L1007.76,521.54 L1008.20,517.75 L1008.64,513.88 L1009.07,509.95 L1009.50,506.00 L1010.01,501.16 L1010.50,496.05 L1011.00,490.77 L1011.49,485.41 L1011.98,480.06 L1012.48,474.81 L1012.99,469.76 L1013.50,465.00 L1013.91,461.26 L1014.29,457.53 L1014.67,453.86 L1015.06,450.30 L1015.47,446.88 L1015.92,443.67 L1016.43,440.69 L1017.00,438.00 L1017.39,436.36 L1017.81,434.67 L1018.25,432.99 L1018.70,431.43 L1019.17,430.07 L1019.64,428.99 L1020.12,428.27 L1020.60,428.00 L1021.07,428.21 L1021.57,428.83 L1022.07,429.78 L1022.58,430.99 L1023.09,432.39 L1023.58,433.90 L1024.05,435.46 L1024.50,437.00 L1025.22,439.98 L1025.87,443.49 L1026.46,447.37 L1027.01,451.52 L1027.53,455.78 L1028.06,460.04 L1028.61,464.16 L1029.20,468.00 L1029.74,471.32 L1030.26,474.67 L1030.77,478.00 L1031.29,481.27 L1031.84,484.45 L1032.44,487.49 L1033.08,490.35 L1033.80,493.00 L1034.35,494.77 L1034.91,496.48 L1035.49,498.11 L1036.09,499.66 L1036.73,501.13 L1037.41,502.51 L1038.13,503.80 L1038.90,505.00 L1039.56,505.84 L1040.26,506.59 L1041.01,507.27 L1041.77,507.90 L1042.54,508.52 L1043.29,509.14 L1044.02,509.79 L1044.70,510.50 L1045.34,511.35 L1045.95,512.35 L1046.54,513.42 L1047.12,514.48 L1047.68,515.44 L1048.25,516.24 L1048.82,516.78 L1049.40,517.00 L1049.94,516.91 L1050.50,516.61 L1051.07,516.13 L1051.63,515.50 L1052.18,514.74 L1052.72,513.89 L1053.22,512.96 L1053.70,512.00 L1054.58,509.68 L1055.33,506.88 L1055.97,503.65 L1056.52,500.04 L1057.03,496.12 L1057.50,491.94 L1057.99,487.54 L1058.50,483.00 L1059.38,474.38 L1060.18,464.52 L1060.93,453.72 L1061.63,442.31 L1062.32,430.62 L1063.02,418.95 L1063.74,407.64 L1064.50,397.00 L1065.24,387.66 L1066.03,378.15 L1066.84,368.64 L1067.66,359.30 L1068.45,350.30 L1069.20,341.80 L1069.89,333.98 L1070.50,327.00 L1070.78,323.16 L1070.99,319.39 L1071.16,315.76 L1071.32,312.35 L1071.51,309.25 L1071.77,306.52 L1072.12,304.24 L1072.60,302.50 L1072.80,302.03 L1073.01,301.64 L1073.23,301.31 L1073.46,301.03 L1073.70,300.77 L1073.95,300.53 L1074.22,300.28 L1074.50,300.00 L1074.85,299.62 L1075.24,299.19 L1075.66,298.74 L1076.09,298.30 L1076.52,297.92 L1076.94,297.64 L1077.34,297.48 L1077.70,297.50 L1078.26,297.95 L1078.76,298.86 L1079.19,300.14 L1079.58,301.75 L1079.94,303.60 L1080.29,305.64 L1080.64,307.80 L1081.00,310.00 L1081.81,315.78 L1082.54,322.87 L1083.21,330.98 L1083.83,339.83 L1084.43,349.15 L1085.01,358.64 L1085.59,368.01 L1086.20,377.00 L1086.87,386.61 L1087.55,396.58 L1088.23,406.75 L1088.89,416.96 L1089.54,427.05 L1090.16,436.86 L1090.75,446.23 L1091.30,455.00 L1091.68,461.37 L1092.02,467.66 L1092.33,473.80 L1092.63,479.72 L1092.94,485.37 L1093.26,490.67 L1093.61,495.57 L1094.00,500.00 L1094.25,502.57 L1094.52,505.24 L1094.79,507.87 L1095.07,510.33 L1095.35,512.47 L1095.64,514.18 L1095.92,515.30 L1096.20,515.70 L1096.53,515.15 L1096.86,513.62 L1097.20,511.32 L1097.53,508.44 L1097.87,505.17 L1098.19,501.71 L1098.50,498.25 L1098.80,495.00 L1099.20,490.40 L1099.57,485.65 L1099.90,480.67 L1100.22,475.39 L1100.53,469.75 L1100.85,463.69 L1101.16,457.13 L1101.50,450.00 L1102.18,433.17 L1102.88,412.43 L1103.59,389.10 L1104.31,364.51 L1105.03,339.98 L1105.76,316.84 L1106.48,296.40 L1107.20,280.00 L1107.55,273.64 L1107.90,268.07 L1108.25,263.07 L1108.59,258.44 L1108.94,253.96 L1109.29,249.44 L1109.65,244.65 L1110.00,239.40 L1110.45,232.33 L1110.92,224.71 L1111.40,216.77 L1111.88,208.72 L1112.34,200.79 L1112.77,193.20 L1113.17,186.16 L1113.50,179.90 L1113.68,176.32 L1113.84,172.98 L1113.97,169.82 L1114.10,166.82 L1114.22,163.94 L1114.34,161.13 L1114.46,158.37 L1114.60,155.60 L1114.72,153.27 L1114.84,150.97 L1114.96,148.71 L1115.09,146.50 L1115.21,144.34 L1115.34,142.25 L1115.47,140.24 L1115.60,138.30 L1115.70,136.86 L1115.80,135.50 L1115.91,134.18 L1116.01,132.90 L1116.12,131.64 L1116.23,130.38 L1116.36,129.11 L1116.50,127.80 L1116.65,126.42 L1116.81,125.03 L1116.98,123.63 L1117.16,122.22 L1117.34,120.82 L1117.55,119.43 L1117.76,118.05 L1118.00,116.70 L1118.24,115.30 L1118.51,113.72 L1118.79,112.07 L1119.08,110.48 L1119.38,109.04 L1119.68,107.87 L1119.99,107.09 L1120.30,106.80 L1120.62,107.08 L1120.96,107.86 L1121.31,109.03 L1121.66,110.46 L1122.01,112.06 L1122.34,113.71 L1122.64,115.29 L1122.90,116.70 L1123.13,118.05 L1123.34,119.43 L1123.51,120.82 L1123.66,122.22 L1123.80,123.62 L1123.94,125.03 L1124.07,126.42 L1124.20,127.80 L1124.33,129.11 L1124.44,130.38 L1124.55,131.64 L1124.66,132.90 L1124.76,134.18 L1124.87,135.50 L1124.98,136.86 L1125.10,138.30 L1125.27,140.24 L1125.44,142.25 L1125.62,144.34 L1125.81,146.50 L1126.00,148.71 L1126.19,150.97 L1126.39,153.27 L1126.60,155.60 L1126.85,158.37 L1127.12,161.13 L1127.39,163.94 L1127.67,166.82 L1127.96,169.82 L1128.24,172.97 L1128.52,176.32 L1128.80,179.90 L1129.23,186.02 L1129.65,192.72 L1130.07,199.89 L1130.49,207.45 L1130.91,215.27 L1131.33,223.28 L1131.76,231.35 L1132.20,239.40 L1132.72,249.04 L1133.24,259.22 L1133.77,269.72 L1134.30,280.34 L1134.84,290.89 L1135.39,301.15 L1135.94,310.92 L1136.50,320.00 L1136.93,326.48 L1137.36,332.80 L1137.79,338.93 L1138.23,344.86 L1138.67,350.55 L1139.11,355.98 L1139.55,361.14 L1140.00,366.00 L1140.29,369.26 L1140.54,372.48 L1140.79,375.61 L1141.04,378.60 L1141.32,381.38 L1141.64,383.92 L1142.03,386.14 L1142.50,388.00 L1142.76,388.78 L1143.04,389.56 L1143.33,390.30 L1143.64,390.96 L1143.94,391.53 L1144.24,391.96 L1144.53,392.23 L1144.80,392.30 L1145.19,391.90 L1145.53,390.91 L1145.85,389.45 L1146.15,387.68 L1146.44,385.71 L1146.74,383.68 L1147.06,381.74 L1147.40,380.00 L1147.79,378.29 L1148.19,376.55 L1148.59,374.78 L1149.01,373.01 L1149.44,371.24 L1149.88,369.47 L1150.33,367.73 L1150.80,366.00 L1151.26,364.29 L1151.73,362.52 L1152.20,360.72 L1152.69,358.95 L1153.19,357.25 L1153.73,355.66 L1154.29,354.23 L1154.90,353.00 L1155.29,352.32 L1155.69,351.69 L1156.09,351.11 L1156.51,350.58 L1156.95,350.10 L1157.40,349.67 L1157.89,349.31 L1158.40,349.00 L1158.92,348.81 L1159.49,348.73 L1160.09,348.73 L1160.70,348.76 L1161.32,348.79 L1161.91,348.78 L1162.48,348.70 L1163.00,348.50 L1163.51,348.17 L1163.99,347.75 L1164.44,347.27 L1164.86,346.73 L1165.27,346.15 L1165.68,345.55 L1166.08,344.92 L1166.50,344.30 L1167.00,343.47 L1167.48,342.53 L1167.94,341.53 L1168.40,340.51 L1168.87,339.50 L1169.37,338.55 L1169.91,337.71 L1170.50,337.00 L1171.02,336.50 L1171.60,336.01 L1172.20,335.54 L1172.81,335.13 L1173.43,334.79 L1174.02,334.56 L1174.59,334.45 L1175.10,334.50 L1175.62,334.75 L1176.10,335.20 L1176.55,335.80 L1176.98,336.53 L1177.38,337.35 L1177.77,338.23 L1178.14,339.12 L1178.50,340.00 L1178.98,341.27 L1179.40,342.65 L1179.79,344.12 L1180.15,345.67 L1180.49,347.29 L1180.82,348.96 L1181.15,350.67 L1181.50,352.40 L1181.93,354.63 L1182.35,356.96 L1182.75,359.38 L1183.15,361.87 L1183.54,364.40 L1183.95,366.96 L1184.36,369.54 L1184.80,372.10 L1185.30,374.87 L1185.82,377.68 L1186.36,380.52 L1186.91,383.38 L1187.46,386.26 L1187.99,389.16 L1188.51,392.07 L1189.00,395.00 L1189.48,398.08 L1189.95,401.22 L1190.40,404.38 L1190.84,407.56 L1191.26,410.73 L1191.68,413.87 L1192.09,416.97 L1192.50,420.00 L1192.83,423.00 L1193.11,426.34 L1193.36,429.81 L1193.61,433.17 L1193.90,436.21 L1194.26,438.69 L1194.71,440.40 L1195.30,441.10 L1195.78,440.96 L1196.33,440.42 L1196.92,439.56 L1197.54,438.44 L1198.17,437.16 L1198.79,435.77 L1199.37,434.36 L1199.90,433.00 L1200.63,430.81 L1201.30,428.35 L1201.92,425.67 L1202.49,422.83 L1203.02,419.88 L1203.53,416.89 L1204.02,413.91 L1204.50,411.00 L1205.00,407.56 L1205.48,403.57 L1205.93,399.35 L1206.36,395.19 L1206.76,391.42 L1207.13,388.34 L1207.48,386.26 L1207.80,385.50 L1207.98,385.75 L1208.14,386.43 L1208.29,387.47 L1208.44,388.78 L1208.58,390.27 L1208.71,391.86 L1208.85,393.47 L1209.00,395.00 L1209.24,397.64 L1209.48,400.69 L1209.71,404.03 L1209.95,407.50 L1210.19,410.98 L1210.45,414.31 L1210.72,417.37 L1211.00,420.00 L1211.19,421.54 L1211.39,423.15 L1211.59,424.74 L1211.80,426.23 L1212.00,427.54 L1212.21,428.58 L1212.41,429.26 L1212.60,429.50 L1212.85,428.94 L1213.07,427.43 L1213.28,425.17 L1213.49,422.37 L1213.70,419.25 L1213.93,416.00 L1214.20,412.85 L1214.50,410.00 L1214.91,406.46 L1215.35,402.29 L1215.83,397.83 L1216.34,393.41 L1216.87,389.38 L1217.43,386.08 L1218.01,383.84 L1218.60,383.00 L1219.17,383.62 L1219.79,385.35 L1220.43,387.94 L1221.09,391.13 L1221.74,394.69 L1222.37,398.35 L1222.96,401.87 L1223.50,405.00 L1224.01,408.03 L1224.47,411.08 L1224.89,414.16 L1225.29,417.27 L1225.67,420.41 L1226.04,423.58 L1226.42,426.77 L1226.80,430.00 L1227.22,433.51 L1227.62,437.05 L1228.02,440.63 L1228.42,444.25 L1228.81,447.89 L1229.20,451.57 L1229.60,455.27 L1230.00,459.00 L1230.43,463.11 L1230.84,467.40 L1231.26,471.79 L1231.68,476.18 L1232.10,480.48 L1232.55,484.61 L1233.01,488.48 L1233.50,492.00 L1233.83,494.21 L1234.16,496.33 L1234.48,498.36 L1234.82,500.29 L1235.18,502.13 L1235.57,503.86 L1236.01,505.48 L1236.50,507.00 L1236.87,508.04 L1237.24,509.11 L1237.64,510.15 L1238.05,511.13 L1238.48,512.00 L1238.95,512.71 L1239.45,513.23 L1240.00,513.50 L1240.55,513.50 L1241.17,513.27 L1241.82,512.87 L1242.50,512.35 L1243.17,511.75 L1243.83,511.12 L1244.44,510.53 L1245.00,510.00 L1245.43,509.58 L1245.81,509.14 L1246.16,508.68 L1246.49,508.23 L1246.83,507.77 L1247.18,507.33 L1247.57,506.90 L1248.00,506.50 L1248.55,506.10 L1249.17,505.74 L1249.82,505.42 L1250.49,505.10 L1251.17,504.77 L1251.82,504.41 L1252.44,503.99 L1253.00,503.50 L1253.57,502.87 L1254.09,502.21 L1254.57,501.50 L1255.02,500.73 L1255.45,499.90 L1255.87,499.01 L1256.28,498.04 L1256.70,497.00 L1257.40,495.00 L1258.08,492.72 L1258.72,490.20 L1259.34,487.51 L1259.93,484.69 L1260.48,481.80 L1261.01,478.88 L1261.50,476.00 L1262.01,472.60 L1262.46,469.06 L1262.85,465.41 L1263.20,461.71 L1263.53,457.97 L1263.87,454.25 L1264.22,450.58 L1264.60,447.00 L1264.98,443.65 L1265.36,440.28 L1265.74,436.92 L1266.13,433.59 L1266.53,430.31 L1266.93,427.11 L1267.36,424.00 L1267.80,421.00 L1268.17,418.59 L1268.54,416.24 L1268.91,413.94 L1269.30,411.70 L1269.70,409.51 L1270.13,407.38 L1270.60,405.31 L1271.10,403.30 L1271.62,401.51 L1272.25,399.55 L1272.95,397.56 L1273.64,395.64 L1274.28,393.93 L1274.81,392.56 L1275.17,391.64 L1275.30,391.30" stroke="#ff0000"/>
<path d="M103.60,17.50 L103.67,18.75 L103.86,22.14 L104.15,27.19 L104.50,33.40 L104.89,40.28 L105.28,47.33 L105.66,54.07 L106.00,60.00 L106.31,65.50 L106.61,71.08 L106.91,76.69 L107.22,82.30 L107.53,87.87 L107.84,93.37 L108.16,98.76 L108.50,104.00 L108.81,108.49 L109.14,112.88 L109.47,117.20 L109.81,121.45 L110.15,125.66 L110.48,129.84 L110.80,134.01 L111.10,138.20 L111.37,142.24 L111.62,146.25 L111.87,150.25 L112.10,154.23 L112.34,158.19 L112.58,162.14 L112.83,166.08 L113.10,170.00 L113.37,173.80 L113.65,177.59 L113.94,181.36 L114.23,185.13 L114.53,188.87 L114.84,192.60 L115.16,196.31 L115.50,200.00 L115.83,203.52 L116.15,207.00 L116.48,210.45 L116.82,213.89 L117.18,217.34 L117.58,220.81 L118.01,224.33 L118.50,227.90 L119.09,231.92 L119.75,236.11 L120.45,240.38 L121.19,244.67 L121.95,248.88 L122.74,252.95 L123.52,256.78 L124.30,260.30 L124.83,262.65 L125.33,264.93 L125.81,267.12 L126.31,269.22 L126.85,271.22 L127.45,273.10 L128.12,274.87 L128.90,276.50 L129.56,277.71 L130.28,278.94 L131.04,280.14 L131.83,281.25 L132.65,282.23 L133.49,283.03 L134.34,283.60 L135.20,283.90 L135.97,283.89 L136.78,283.63 L137.60,283.19 L138.44,282.61 L139.27,281.95 L140.10,281.26 L140.91,280.59 L141.70,280.00 L142.46,279.37 L143.22,278.61 L143.97,277.79 L144.71,276.99 L145.44,276.26 L146.14,275.69 L146.83,275.34 L147.50,275.30 L148.31,275.69 L149.10,276.50 L149.86,277.65 L150.59,279.05 L151.29,280.63 L151.96,282.32 L152.59,284.04 L153.20,285.70 L153.98,288.13 L154.68,290.82 L155.30,293.72 L155.87,296.74 L156.39,299.84 L156.90,302.94 L157.39,305.98 L157.90,308.90 L158.37,311.53 L158.81,314.05 L159.23,316.52 L159.64,318.99 L160.04,321.52 L160.44,324.17 L160.86,326.97 L161.30,330.00 L161.99,335.11 L162.70,340.95 L163.44,347.25 L164.18,353.74 L164.93,360.16 L165.67,366.24 L166.40,371.71 L167.10,376.30 L167.46,378.39 L167.81,380.25 L168.15,381.93 L168.49,383.51 L168.84,385.04 L169.20,386.59 L169.59,388.22 L170.00,390.00 L170.52,392.39 L171.04,394.96 L171.58,397.64 L172.15,400.36 L172.76,403.03 L173.43,405.57 L174.17,407.92 L175.00,410.00 L175.64,411.37 L176.33,412.73 L177.04,414.05 L177.79,415.28 L178.56,416.38 L179.36,417.31 L180.17,418.03 L181.00,418.50 L181.59,418.66 L182.20,418.69 L182.83,418.62 L183.46,418.46 L184.10,418.25 L184.74,418.00 L185.37,417.74 L186.00,417.50 L186.71,417.15 L187.45,416.65 L188.20,416.07 L188.94,415.48 L189.66,414.95 L190.34,414.57 L190.96,414.39 L191.50,414.50 L192.32,415.64 L192.83,417.83 L193.10,420.82 L193.20,424.40 L193.19,428.33 L193.16,432.40 L193.17,436.36 L193.30,440.00 L193.53,444.03 L193.73,448.28 L193.93,452.66 L194.12,457.09 L194.32,461.45 L194.53,465.67 L194.75,469.65 L195.00,473.30 L195.18,475.64 L195.34,477.82 L195.51,479.87 L195.68,481.85 L195.88,483.80 L196.11,485.78 L196.38,487.83 L196.70,490.00 L197.17,492.74 L197.72,495.56 L198.34,498.46 L199.00,501.42 L199.68,504.40 L200.37,507.38 L201.05,510.36 L201.70,513.30 L202.33,516.20 L202.96,519.08 L203.60,521.94 L204.23,524.81 L204.86,527.70 L205.49,530.64 L206.10,533.63 L206.70,536.70 L207.36,540.31 L208.00,544.10 L208.62,547.98 L209.24,551.90 L209.85,555.80 L210.46,559.61 L211.08,563.26 L211.70,566.70 L212.20,569.52 L212.71,572.60 L213.21,575.73 L213.72,578.74 L214.22,581.41 L214.72,583.56 L215.22,584.98 L215.70,585.50 L216.20,584.95 L216.71,583.43 L217.21,581.14 L217.70,578.27 L218.19,575.03 L218.65,571.61 L219.09,568.20 L219.50,565.00 L220.03,560.46 L220.49,555.51 L220.90,550.26 L221.28,544.81 L221.63,539.26 L221.98,533.71 L222.33,528.25 L222.70,523.00 L223.06,518.26 L223.42,513.72 L223.77,509.28 L224.11,504.83 L224.46,500.28 L224.80,495.52 L225.15,490.46 L225.50,485.00 L226.04,475.87 L226.59,465.70 L227.15,454.79 L227.70,443.47 L228.24,432.02 L228.76,420.75 L229.25,409.98 L229.70,400.00 L230.02,392.50 L230.31,385.25 L230.57,378.20 L230.83,371.33 L231.08,364.60 L231.33,357.97 L231.60,351.42 L231.90,344.90 L232.19,339.09 L232.50,333.34 L232.83,327.66 L233.16,322.06 L233.48,316.54 L233.80,311.12 L234.11,305.81 L234.40,300.60 L234.61,296.06 L234.77,291.43 L234.91,286.80 L235.05,282.29 L235.21,277.98 L235.43,273.96 L235.72,270.34 L236.10,267.20 L236.34,265.74 L236.60,264.41 L236.86,263.19 L237.15,262.05 L237.46,260.99 L237.78,259.97 L238.13,258.98 L238.50,258.00 L238.82,257.17 L239.17,256.27 L239.54,255.37 L239.91,254.52 L240.29,253.76 L240.67,253.15 L241.04,252.75 L241.40,252.60 L241.72,252.71 L242.03,253.03 L242.35,253.51 L242.67,254.11 L242.97,254.80 L243.26,255.54 L243.54,256.28 L243.80,257.00 L244.14,258.02 L244.43,259.09 L244.70,260.23 L244.94,261.44 L245.17,262.73 L245.38,264.12 L245.59,265.61 L245.80,267.20 L246.16,270.41 L246.47,274.08 L246.74,278.10 L246.99,282.39 L247.22,286.88 L247.44,291.46 L247.66,296.07 L247.90,300.60 L248.17,305.73 L248.42,310.87 L248.66,316.07 L248.90,321.39 L249.14,326.88 L249.40,332.59 L249.68,338.58 L250.00,344.90 L250.52,354.82 L251.11,365.83 L251.74,377.57 L252.41,389.69 L253.09,401.80 L253.76,413.57 L254.40,424.62 L255.00,434.60 L255.40,441.10 L255.79,447.33 L256.17,453.31 L256.54,459.06 L256.91,464.58 L257.28,469.91 L257.64,475.04 L258.00,480.00 L258.27,483.93 L258.53,488.17 L258.78,492.47 L259.04,496.58 L259.30,500.22 L259.56,503.15 L259.82,505.09 L260.10,505.80 L260.39,505.10 L260.69,503.15 L261.01,500.23 L261.32,496.58 L261.63,492.48 L261.94,488.17 L262.23,483.93 L262.50,480.00 L262.82,475.02 L263.11,469.84 L263.38,464.45 L263.63,458.86 L263.87,453.08 L264.13,447.11 L264.40,440.95 L264.70,434.60 L265.13,425.86 L265.59,416.59 L266.08,406.92 L266.58,396.95 L267.09,386.83 L267.60,376.66 L268.10,366.58 L268.60,356.70 L269.09,346.79 L269.57,336.62 L270.06,326.35 L270.55,316.13 L271.03,306.11 L271.52,296.47 L272.01,287.35 L272.50,278.90 L272.85,273.45 L273.20,268.41 L273.54,263.65 L273.89,259.07 L274.24,254.54 L274.59,249.93 L274.95,245.12 L275.30,240.00 L275.73,233.40 L276.17,226.49 L276.61,219.36 L277.05,212.09 L277.50,204.77 L277.94,197.47 L278.37,190.29 L278.80,183.30 L279.19,176.63 L279.57,169.65 L279.94,162.57 L280.31,155.61 L280.69,148.99 L281.07,142.92 L281.47,137.62 L281.90,133.30 L282.08,131.75 L282.26,130.36 L282.43,129.09 L282.61,127.94 L282.80,126.87 L283.00,125.88 L283.24,124.93 L283.50,124.00 L283.71,123.33 L283.94,122.61 L284.18,121.91 L284.43,121.24 L284.68,120.66 L284.93,120.20 L285.17,119.90 L285.40,119.80 L285.66,119.97 L285.91,120.43 L286.16,121.10 L286.41,121.95 L286.64,122.92 L286.87,123.95 L287.09,125.00 L287.30,126.00 L287.60,127.56 L287.87,129.23 L288.11,131.02 L288.33,132.92 L288.54,134.94 L288.76,137.07 L288.97,139.33 L289.20,141.70 L289.59,145.88 L289.97,150.47 L290.36,155.41 L290.75,160.64 L291.14,166.11 L291.53,171.74 L291.91,177.49 L292.30,183.30 L292.79,191.04 L293.29,199.38 L293.79,208.13 L294.28,217.04 L294.77,225.90 L295.26,234.50 L295.74,242.60 L296.20,250.00 L296.52,254.81 L296.84,259.29 L297.15,263.53 L297.45,267.63 L297.76,271.67 L298.07,275.75 L298.38,279.97 L298.70,284.40 L299.07,289.72 L299.45,295.24 L299.84,300.89 L300.22,306.61 L300.61,312.33 L301.01,318.00 L301.40,323.54 L301.80,328.90 L302.15,333.61 L302.48,338.35 L302.82,343.05 L303.16,347.67 L303.51,352.16 L303.88,356.48 L304.27,360.58 L304.70,364.40 L305.01,367.01 L305.32,369.57 L305.63,372.07 L305.95,374.45 L306.30,376.70 L306.68,378.76 L307.11,380.60 L307.60,382.20 L307.89,383.00 L308.21,383.80 L308.55,384.56 L308.90,385.26 L309.24,385.86 L309.58,386.32 L309.90,386.61 L310.20,386.70 L310.52,386.49 L310.81,385.98 L311.08,385.23 L311.34,384.30 L311.60,383.25 L311.86,382.14 L312.12,381.04 L312.40,380.00 L312.79,378.53 L313.17,376.90 L313.55,375.17 L313.93,373.39 L314.34,371.59 L314.78,369.85 L315.26,368.20 L315.80,366.70 L316.27,365.57 L316.76,364.47 L317.28,363.40 L317.82,362.38 L318.38,361.41 L318.96,360.50 L319.57,359.66 L320.20,358.90 L320.73,358.38 L321.29,357.93 L321.87,357.53 L322.47,357.17 L323.06,356.81 L323.64,356.45 L324.19,356.05 L324.70,355.60 L325.17,355.08 L325.62,354.50 L326.05,353.90 L326.45,353.28 L326.85,352.66 L327.24,352.08 L327.62,351.56 L328.00,351.10 L328.26,350.85 L328.52,350.66 L328.78,350.50 L329.03,350.35 L329.28,350.19 L329.52,349.99 L329.76,349.74 L330.00,349.40 L330.58,348.07 L331.12,346.16 L331.63,343.85 L332.11,341.32 L332.59,338.74 L333.08,336.27 L333.57,334.10 L334.10,332.40 L334.39,331.67 L334.68,331.00 L334.97,330.39 L335.26,329.82 L335.55,329.30 L335.86,328.82 L336.17,328.39 L336.50,328.00 L336.74,327.74 L336.98,327.48 L337.24,327.24 L337.49,327.02 L337.75,326.84 L338.00,326.70 L338.25,326.62 L338.50,326.60 L338.76,326.66 L339.02,326.79 L339.27,326.99 L339.53,327.24 L339.78,327.52 L340.02,327.84 L340.27,328.17 L340.50,328.50 L340.83,329.01 L341.15,329.57 L341.46,330.17 L341.76,330.83 L342.05,331.54 L342.33,332.32 L342.62,333.17 L342.90,334.10 L343.46,336.27 L344.00,338.86 L344.53,341.79 L345.05,344.94 L345.55,348.23 L346.04,351.55 L346.53,354.81 L347.00,357.90 L347.46,360.85 L347.91,363.77 L348.34,366.69 L348.77,369.60 L349.18,372.55 L349.59,375.53 L350.00,378.58 L350.40,381.70 L350.85,385.35 L351.28,389.10 L351.71,392.92 L352.13,396.81 L352.55,400.72 L352.96,404.64 L353.38,408.54 L353.80,412.40 L354.21,416.33 L354.59,420.39 L354.97,424.51 L355.35,428.60 L355.75,432.58 L356.18,436.36 L356.66,439.86 L357.20,443.00 L357.58,444.94 L357.98,446.96 L358.39,448.95 L358.82,450.83 L359.27,452.47 L359.71,453.78 L360.16,454.66 L360.60,455.00 L360.89,454.88 L361.19,454.49 L361.49,453.91 L361.79,453.18 L362.09,452.37 L362.39,451.53 L362.70,450.72 L363.00,450.00 L363.34,449.18 L363.70,448.22 L364.06,447.19 L364.42,446.18 L364.77,445.27 L365.11,444.53 L365.42,444.05 L365.70,443.90 L366.11,444.59 L366.41,446.34 L366.64,448.89 L366.82,452.00 L366.97,455.42 L367.11,458.89 L367.28,462.17 L367.50,465.00 L367.73,467.54 L367.95,470.39 L368.18,473.34 L368.42,476.21 L368.66,478.79 L368.92,480.87 L369.20,482.28 L369.50,482.80 L369.78,482.47 L370.07,481.55 L370.37,480.14 L370.68,478.37 L371.00,476.35 L371.33,474.20 L371.67,472.05 L372.00,470.00 L372.54,466.73 L373.11,463.07 L373.69,459.12 L374.29,455.00 L374.89,450.80 L375.48,446.63 L376.06,442.59 L376.60,438.80 L377.04,435.61 L377.44,432.41 L377.83,429.25 L378.21,426.14 L378.60,423.13 L379.02,420.25 L379.48,417.52 L380.00,415.00 L380.41,413.20 L380.85,411.29 L381.31,409.38 L381.78,407.58 L382.26,405.99 L382.72,404.72 L383.18,403.89 L383.60,403.60 L384.07,404.05 L384.52,405.25 L384.96,407.06 L385.38,409.32 L385.79,411.89 L386.19,414.63 L386.59,417.38 L387.00,420.00 L387.61,424.13 L388.19,428.72 L388.75,433.66 L389.31,438.83 L389.87,444.12 L390.44,449.42 L391.05,454.62 L391.70,459.60 L392.41,464.48 L393.20,469.66 L394.05,474.96 L394.90,480.17 L395.71,485.07 L396.44,489.48 L397.05,493.19 L397.50,496.00 L397.59,496.70 L397.65,497.28 L397.69,497.78 L397.73,498.23 L397.77,498.65 L397.83,499.08 L397.94,499.56 L398.10,500.10 L398.43,501.11 L398.84,502.28 L399.32,503.54 L399.87,504.82 L400.49,506.06 L401.16,507.20 L401.90,508.17 L402.70,508.90 L403.44,509.33 L404.25,509.65 L405.12,509.86 L406.03,509.99 L406.96,510.05 L407.89,510.06 L408.81,510.04 L409.70,510.00 L410.59,509.96 L411.50,509.91 L412.43,509.83 L413.35,509.70 L414.24,509.49 L415.09,509.19 L415.88,508.77 L416.60,508.20 L417.52,507.05 L418.28,505.55 L418.93,503.78 L419.47,501.80 L419.96,499.67 L420.40,497.47 L420.84,495.26 L421.30,493.10 L421.86,490.50 L422.36,487.81 L422.82,485.05 L423.24,482.20 L423.64,479.27 L424.01,476.26 L424.36,473.17 L424.70,470.00 L425.08,465.96 L425.38,461.81 L425.63,457.53 L425.86,453.13 L426.09,448.60 L426.34,443.93 L426.63,439.14 L427.00,434.20 L427.57,427.40 L428.21,419.94 L428.92,412.08 L429.67,404.09 L430.45,396.25 L431.24,388.82 L432.03,382.08 L432.80,376.30 L433.22,373.41 L433.62,370.68 L434.01,368.12 L434.42,365.72 L434.83,363.48 L435.28,361.41 L435.77,359.52 L436.30,357.80 L436.65,356.81 L437.01,355.80 L437.40,354.82 L437.79,353.91 L438.19,353.13 L438.57,352.52 L438.95,352.12 L439.30,352.00 L439.68,352.22 L440.04,352.79 L440.39,353.64 L440.73,354.71 L441.06,355.94 L441.38,357.27 L441.69,358.65 L442.00,360.00 L442.53,362.56 L443.03,365.42 L443.48,368.55 L443.92,371.95 L444.34,375.60 L444.75,379.48 L445.17,383.59 L445.60,387.90 L446.35,396.25 L447.09,405.92 L447.83,416.54 L448.56,427.70 L449.27,439.02 L449.97,450.10 L450.65,460.56 L451.30,470.00 L451.76,476.53 L452.18,482.89 L452.58,489.06 L452.98,495.02 L453.39,500.74 L453.82,506.21 L454.28,511.40 L454.80,516.30 L455.20,519.81 L455.63,523.56 L456.07,527.32 L456.53,530.88 L456.99,534.03 L457.45,536.54 L457.88,538.20 L458.30,538.80 L458.78,537.79 L459.24,535.06 L459.68,531.01 L460.11,526.02 L460.54,520.50 L460.95,514.84 L461.37,509.44 L461.80,504.70 L462.24,500.48 L462.68,496.39 L463.12,492.36 L463.56,488.30 L464.00,484.11 L464.42,479.72 L464.82,475.05 L465.20,470.00 L465.74,461.28 L466.24,451.49 L466.69,440.95 L467.12,429.96 L467.53,418.85 L467.92,407.93 L468.31,397.50 L468.70,387.90 L469.01,380.92 L469.32,374.33 L469.62,368.02 L469.92,361.85 L470.21,355.69 L470.48,349.41 L470.75,342.89 L471.00,336.00 L471.28,327.13 L471.54,317.91 L471.77,308.40 L471.99,298.68 L472.21,288.82 L472.43,278.89 L472.65,268.96 L472.90,259.10 L473.17,248.42 L473.46,237.04 L473.75,225.33 L474.05,213.71 L474.35,202.57 L474.64,192.31 L474.93,183.32 L475.20,176.00 L475.32,173.40 L475.43,171.15 L475.54,169.15 L475.65,167.31 L475.76,165.56 L475.87,163.80 L475.99,161.94 L476.10,159.90 L476.23,157.34 L476.37,154.68 L476.50,151.95 L476.64,149.19 L476.78,146.41 L476.92,143.65 L477.06,140.94 L477.20,138.30 L477.33,135.94 L477.46,133.61 L477.59,131.31 L477.72,129.04 L477.86,126.78 L478.00,124.52 L478.15,122.26 L478.30,120.00 L478.45,117.72 L478.61,115.37 L478.76,113.00 L478.92,110.65 L479.09,108.36 L479.28,106.16 L479.48,104.09 L479.70,102.20 L479.86,101.00 L480.01,99.84 L480.17,98.73 L480.34,97.67 L480.52,96.66 L480.72,95.72 L480.95,94.83 L481.20,94.00 L481.40,93.43 L481.61,92.84 L481.84,92.25 L482.07,91.70 L482.31,91.22 L482.55,90.84 L482.78,90.59 L483.00,90.50 L483.21,90.59 L483.43,90.85 L483.64,91.23 L483.85,91.71 L484.05,92.26 L484.25,92.84 L484.43,93.43 L484.60,94.00 L484.82,94.83 L485.00,95.72 L485.16,96.67 L485.30,97.67 L485.43,98.73 L485.55,99.84 L485.67,101.00 L485.80,102.20 L485.98,104.10 L486.14,106.16 L486.30,108.36 L486.44,110.66 L486.57,113.01 L486.71,115.37 L486.85,117.72 L487.00,120.00 L487.16,122.27 L487.31,124.52 L487.46,126.78 L487.62,129.04 L487.78,131.32 L487.94,133.61 L488.12,135.94 L488.30,138.30 L488.52,140.94 L488.75,143.65 L489.00,146.41 L489.25,149.19 L489.51,151.95 L489.75,154.68 L489.99,157.34 L490.20,159.90 L490.37,161.94 L490.52,163.80 L490.67,165.56 L490.81,167.31 L490.94,169.15 L491.09,171.15 L491.24,173.40 L491.40,176.00 L491.81,183.41 L492.27,192.62 L492.77,203.15 L493.28,214.54 L493.80,226.30 L494.32,237.97 L494.83,249.06 L495.30,259.10 L495.66,266.65 L496.01,273.98 L496.35,281.11 L496.69,288.08 L497.03,294.92 L497.37,301.67 L497.73,308.35 L498.10,315.00 L498.46,321.03 L498.82,327.04 L499.20,332.99 L499.59,338.87 L499.97,344.63 L500.35,350.26 L500.73,355.73 L501.10,361.00 L501.39,365.18 L501.67,369.27 L501.94,373.27 L502.21,377.18 L502.49,380.97 L502.78,384.64 L503.08,388.19 L503.40,391.60 L503.66,394.22 L503.91,396.86 L504.16,399.46 L504.43,401.97 L504.71,404.34 L505.01,406.50 L505.34,408.40 L505.70,410.00 L505.89,410.68 L506.08,411.36 L506.29,412.00 L506.50,412.59 L506.70,413.09 L506.91,413.48 L507.11,413.73 L507.30,413.80 L507.61,413.41 L507.91,412.41 L508.18,410.93 L508.44,409.09 L508.70,407.03 L508.96,404.88 L509.22,402.76 L509.50,400.80 L509.87,398.38 L510.26,395.82 L510.64,393.17 L511.04,390.43 L511.43,387.65 L511.82,384.85 L512.22,382.06 L512.60,379.30 L512.99,376.44 L513.38,373.54 L513.76,370.62 L514.14,367.68 L514.52,364.76 L514.91,361.88 L515.30,359.05 L515.70,356.30 L516.06,353.86 L516.42,351.39 L516.78,348.93 L517.15,346.52 L517.52,344.19 L517.90,341.97 L518.30,339.89 L518.70,338.00 L518.97,336.83 L519.23,335.70 L519.49,334.61 L519.75,333.57 L520.03,332.61 L520.33,331.74 L520.65,330.96 L521.00,330.30 L521.21,329.96 L521.44,329.63 L521.67,329.33 L521.90,329.06 L522.14,328.83 L522.39,328.65 L522.64,328.54 L522.90,328.50 L523.22,328.57 L523.54,328.74 L523.88,329.02 L524.22,329.37 L524.57,329.77 L524.92,330.21 L525.26,330.66 L525.60,331.10 L526.08,331.80 L526.54,332.60 L527.00,333.48 L527.45,334.41 L527.92,335.36 L528.42,336.29 L528.94,337.18 L529.50,338.00 L530.10,338.73 L530.74,339.44 L531.42,340.12 L532.11,340.79 L532.81,341.43 L533.50,342.06 L534.17,342.68 L534.80,343.30 L535.31,343.80 L535.81,344.26 L536.31,344.70 L536.79,345.13 L537.26,345.58 L537.72,346.07 L538.17,346.60 L538.60,347.20 L539.16,348.12 L539.69,349.13 L540.19,350.22 L540.67,351.38 L541.14,352.58 L541.60,353.81 L542.05,355.06 L542.50,356.30 L543.01,357.73 L543.51,359.18 L544.00,360.67 L544.47,362.19 L544.94,363.75 L545.40,365.33 L545.85,366.95 L546.30,368.60 L546.81,370.55 L547.31,372.53 L547.79,374.55 L548.27,376.62 L548.74,378.74 L549.20,380.90 L549.65,383.12 L550.10,385.40 L550.62,388.37 L551.13,391.63 L551.63,395.06 L552.11,398.51 L552.59,401.87 L553.06,404.99 L553.53,407.74 L554.00,410.00 L554.22,410.90 L554.43,411.73 L554.64,412.48 L554.84,413.18 L555.06,413.82 L555.28,414.41 L555.53,414.97 L555.80,415.50 L556.01,415.86 L556.22,416.21 L556.44,416.53 L556.67,416.84 L556.91,417.12 L557.16,417.37 L557.42,417.60 L557.70,417.80 L557.98,417.97 L558.27,418.11 L558.58,418.24 L558.89,418.34 L559.22,418.42 L559.54,418.47 L559.87,418.50 L560.20,418.50 L560.58,418.48 L560.98,418.44 L561.38,418.37 L561.79,418.27 L562.20,418.12 L562.59,417.91 L562.96,417.64 L563.30,417.30 L563.96,416.21 L564.51,414.70 L564.97,412.85 L565.36,410.74 L565.70,408.43 L566.03,406.01 L566.35,403.54 L566.70,401.10 L567.20,397.51 L567.65,393.62 L568.07,389.50 L568.46,385.21 L568.84,380.82 L569.22,376.41 L569.60,372.05 L570.00,367.80 L570.41,363.61 L570.82,359.40 L571.23,355.17 L571.63,350.95 L572.04,346.75 L572.46,342.58 L572.88,338.46 L573.30,334.40 L573.71,330.29 L574.13,325.67 L574.57,320.86 L575.00,316.20 L575.43,312.00 L575.84,308.60 L576.23,306.33 L576.60,305.50 L576.93,306.34 L577.23,308.62 L577.50,312.02 L577.77,316.21 L578.03,320.88 L578.30,325.68 L578.58,330.29 L578.90,334.40 L579.27,338.46 L579.66,342.60 L580.06,346.78 L580.48,350.99 L580.91,355.22 L581.34,359.44 L581.77,363.64 L582.20,367.80 L582.63,371.86 L583.07,375.93 L583.51,379.99 L583.96,384.04 L584.41,388.07 L584.85,392.07 L585.28,396.05 L585.70,400.00 L586.08,403.72 L586.45,407.40 L586.81,411.05 L587.17,414.69 L587.52,418.31 L587.88,421.93 L588.24,425.56 L588.60,429.20 L588.97,432.86 L589.35,436.52 L589.72,440.19 L590.10,443.85 L590.48,447.51 L590.85,451.18 L591.23,454.84 L591.60,458.50 L591.97,462.17 L592.33,465.85 L592.69,469.54 L593.04,473.23 L593.40,476.90 L593.76,480.55 L594.13,484.15 L594.50,487.70 L594.84,491.03 L595.18,494.41 L595.50,497.79 L595.84,501.13 L596.19,504.38 L596.56,507.49 L596.96,510.41 L597.40,513.10 L597.71,514.85 L598.00,516.58 L598.29,518.26 L598.61,519.85 L598.95,521.33 L599.34,522.67 L599.78,523.84 L600.30,524.80 L600.63,525.27 L601.00,525.72 L601.38,526.14 L601.78,526.50 L602.18,526.79 L602.57,527.00 L602.95,527.11 L603.30,527.10 L603.71,526.89 L604.11,526.46 L604.49,525.87 L604.85,525.14 L605.20,524.33 L605.54,523.47 L605.87,522.62 L606.20,521.80 L606.59,520.72 L606.93,519.55 L607.24,518.29 L607.55,517.00 L607.86,515.71 L608.21,514.44 L608.62,513.22 L609.10,512.10 L609.61,511.16 L610.16,510.27 L610.76,509.43 L611.39,508.61 L612.03,507.80 L612.69,506.98 L613.35,506.16 L614.00,505.30 L614.70,504.36 L615.43,503.43 L616.16,502.50 L616.91,501.56 L617.65,500.60 L618.38,499.61 L619.10,498.58 L619.80,497.50 L620.59,496.19 L621.38,494.84 L622.15,493.45 L622.91,492.01 L623.64,490.53 L624.36,489.00 L625.05,487.42 L625.70,485.80 L626.43,483.81 L627.10,481.74 L627.74,479.60 L628.35,477.39 L628.93,475.14 L629.49,472.85 L630.05,470.53 L630.60,468.20 L631.18,465.44 L631.69,462.45 L632.17,459.34 L632.63,456.22 L633.12,453.21 L633.66,450.43 L634.28,447.99 L635.00,446.00 L635.44,445.09 L635.91,444.19 L636.41,443.34 L636.93,442.58 L637.43,441.93 L637.93,441.45 L638.39,441.16 L638.80,441.10 L639.24,441.40 L639.64,442.09 L639.99,443.08 L640.31,444.31 L640.61,445.68 L640.91,447.14 L641.20,448.61 L641.50,450.00 L641.93,451.99 L642.34,454.14 L642.74,456.41 L643.12,458.78 L643.49,461.24 L643.86,463.76 L644.23,466.32 L644.60,468.90 L645.05,472.08 L645.51,475.42 L645.97,478.87 L646.42,482.38 L646.86,485.91 L647.29,489.38 L647.71,492.76 L648.10,496.00 L648.41,498.64 L648.70,501.15 L648.98,503.58 L649.24,505.98 L649.51,508.41 L649.79,510.90 L650.08,513.51 L650.40,516.30 L650.86,520.74 L651.36,526.12 L651.89,531.97 L652.44,537.82 L652.99,543.18 L653.54,547.60 L654.08,550.60 L654.60,551.70 L655.11,550.59 L655.62,547.60 L656.13,543.18 L656.63,537.81 L657.12,531.97 L657.60,526.12 L658.06,520.74 L658.50,516.30 L658.82,513.51 L659.12,510.89 L659.41,508.39 L659.70,505.96 L659.98,503.55 L660.26,501.12 L660.53,498.62 L660.80,496.00 L661.11,492.99 L661.41,490.03 L661.71,487.05 L662.01,484.00 L662.30,480.83 L662.58,477.48 L662.85,473.88 L663.10,470.00 L663.47,462.81 L663.79,454.69 L664.07,445.89 L664.33,436.62 L664.59,427.12 L664.85,417.59 L665.15,408.28 L665.50,399.40 L665.87,391.40 L666.26,383.62 L666.68,375.96 L667.11,368.32 L667.55,360.60 L668.00,352.71 L668.45,344.54 L668.90,336.00 L669.47,324.56 L670.08,312.13 L670.70,299.12 L671.32,285.93 L671.94,272.95 L672.53,260.60 L673.09,249.28 L673.60,239.40 L673.88,234.18 L674.14,229.28 L674.38,224.69 L674.62,220.35 L674.86,216.24 L675.10,212.31 L675.34,208.55 L675.60,204.90 L675.79,202.38 L675.98,199.97 L676.17,197.67 L676.36,195.45 L676.55,193.30 L676.76,191.22 L676.97,189.19 L677.20,187.20 L677.38,185.48 L677.56,183.61 L677.74,181.70 L677.92,179.87 L678.12,178.23 L678.35,176.89 L678.60,175.98 L678.90,175.60 L679.05,175.62 L679.21,175.75 L679.39,175.95 L679.56,176.22 L679.74,176.52 L679.91,176.85 L680.06,177.19 L680.20,177.50 L680.36,177.99 L680.50,178.62 L680.62,179.31 L680.72,180.02 L680.81,180.67 L680.91,181.21 L681.00,181.57 L681.10,181.70 L681.34,180.93 L681.56,178.89 L681.76,175.90 L681.96,172.29 L682.16,168.40 L682.36,164.55 L682.58,161.07 L682.80,158.30 L682.95,156.71 L683.10,155.04 L683.24,153.37 L683.39,151.80 L683.55,150.42 L683.72,149.31 L683.90,148.57 L684.10,148.30 L684.27,148.44 L684.45,148.83 L684.65,149.44 L684.85,150.21 L685.05,151.09 L685.24,152.03 L685.43,152.98 L685.60,153.90 L685.85,155.45 L686.08,157.20 L686.28,159.09 L686.47,161.09 L686.65,163.16 L686.83,165.27 L687.01,167.36 L687.20,169.40 L687.42,171.57 L687.64,173.76 L687.86,175.99 L688.09,178.22 L688.31,180.47 L688.52,182.72 L688.72,184.97 L688.90,187.20 L689.06,189.37 L689.21,191.49 L689.34,193.58 L689.47,195.69 L689.59,197.83 L689.72,200.06 L689.85,202.41 L690.00,204.90 L690.22,208.58 L690.45,212.44 L690.69,216.48 L690.94,220.69 L691.20,225.08 L691.46,229.67 L691.73,234.44 L692.00,239.40 L692.41,247.15 L692.84,255.83 L693.29,265.11 L693.75,274.65 L694.21,284.13 L694.66,293.22 L695.09,301.59 L695.50,308.90 L695.74,312.83 L695.98,316.35 L696.22,319.60 L696.45,322.69 L696.68,325.75 L696.89,328.90 L697.10,332.28 L697.30,336.00 L697.52,341.73 L697.68,347.94 L697.81,354.50 L697.92,361.29 L698.06,368.15 L698.25,374.96 L698.52,381.59 L698.90,387.90 L699.34,393.85 L699.86,400.48 L700.44,407.33 L701.06,413.96 L701.71,419.90 L702.36,424.71 L703.00,427.93 L703.60,429.10 L704.18,427.90 L704.77,424.62 L705.35,419.74 L705.93,413.73 L706.51,407.07 L707.08,400.23 L707.65,393.68 L708.20,387.90 L708.76,382.51 L709.32,377.11 L709.86,371.71 L710.40,366.28 L710.94,360.81 L711.47,355.28 L711.99,349.68 L712.50,344.00 L713.05,337.56 L713.58,330.83 L714.10,323.92 L714.61,317.00 L715.12,310.19 L715.64,303.62 L716.16,297.45 L716.70,291.80 L717.06,288.09 L717.39,284.43 L717.70,280.87 L718.03,277.47 L718.38,274.30 L718.78,271.40 L719.25,268.85 L719.80,266.70 L720.10,265.76 L720.42,264.83 L720.76,263.95 L721.11,263.14 L721.46,262.46 L721.82,261.93 L722.16,261.60 L722.50,261.50 L722.97,261.84 L723.45,262.71 L723.92,263.99 L724.39,265.59 L724.85,267.40 L725.29,269.30 L725.71,271.21 L726.10,273.00 L726.59,275.47 L727.03,278.15 L727.42,280.99 L727.78,283.94 L728.13,286.95 L728.47,289.98 L728.82,292.98 L729.20,295.90 L729.59,298.79 L729.96,301.70 L730.33,304.63 L730.71,307.55 L731.10,310.45 L731.50,313.32 L731.93,316.14 L732.40,318.90 L732.85,321.36 L733.31,323.77 L733.79,326.16 L734.29,328.51 L734.80,330.84 L735.34,333.14 L735.91,335.43 L736.50,337.70 L737.09,339.86 L737.69,342.03 L738.31,344.18 L738.96,346.30 L739.63,348.40 L740.32,350.45 L741.04,352.46 L741.80,354.40 L742.50,356.09 L743.23,357.74 L743.99,359.35 L744.76,360.93 L745.55,362.47 L746.36,363.98 L747.18,365.46 L748.00,366.90 L748.77,368.18 L749.58,369.45 L750.40,370.70 L751.24,371.91 L752.06,373.09 L752.86,374.22 L753.61,375.29 L754.30,376.30 L754.75,376.98 L755.19,377.62 L755.61,378.25 L756.01,378.84 L756.39,379.42 L756.77,379.97 L757.14,380.49 L757.50,381.00 L757.77,381.40 L758.02,381.83 L758.26,382.27 L758.50,382.68 L758.74,383.05 L758.98,383.34 L759.23,383.53 L759.50,383.60 L759.86,383.51 L760.25,383.25 L760.65,382.85 L761.06,382.32 L761.47,381.69 L761.87,380.98 L762.25,380.21 L762.60,379.40 L763.34,377.07 L763.97,374.09 L764.52,370.60 L765.01,366.73 L765.45,362.61 L765.89,358.40 L766.33,354.21 L766.80,350.20 L767.35,345.70 L767.88,341.03 L768.39,336.24 L768.90,331.40 L769.41,326.56 L769.92,321.77 L770.45,317.10 L771.00,312.60 L771.47,308.54 L771.90,304.23 L772.32,299.87 L772.76,295.62 L773.24,291.67 L773.79,288.20 L774.43,285.38 L775.20,283.40 L775.49,282.92 L775.80,282.47 L776.12,282.08 L776.45,281.75 L776.78,281.50 L777.10,281.33 L777.41,281.26 L777.70,281.30 L778.33,281.99 L778.87,283.49 L779.35,285.63 L779.79,288.24 L780.19,291.16 L780.59,294.22 L780.98,297.26 L781.40,300.10 L781.97,303.73 L782.55,307.50 L783.11,311.41 L783.65,315.47 L784.18,319.70 L784.69,324.11 L785.16,328.71 L785.60,333.50 L786.15,340.87 L786.63,349.03 L787.04,357.73 L787.41,366.69 L787.74,375.66 L788.06,384.38 L788.38,392.58 L788.70,400.00 L788.94,404.81 L789.19,409.32 L789.43,413.62 L789.66,417.75 L789.88,421.81 L790.08,425.86 L790.25,429.96 L790.40,434.20 L790.50,438.64 L790.56,443.10 L790.58,447.59 L790.59,452.08 L790.60,456.58 L790.62,461.07 L790.69,465.55 L790.80,470.00 L790.95,474.39 L791.12,478.81 L791.31,483.23 L791.52,487.63 L791.77,492.00 L792.04,496.32 L792.35,500.55 L792.70,504.70 L793.03,508.39 L793.37,512.08 L793.72,515.75 L794.11,519.36 L794.54,522.87 L795.02,526.25 L795.57,529.48 L796.20,532.50 L796.74,534.82 L797.35,537.32 L798.00,539.83 L798.68,542.21 L799.37,544.32 L800.04,546.00 L800.69,547.11 L801.30,547.50 L801.86,547.05 L802.38,545.85 L802.89,544.08 L803.39,541.89 L803.88,539.47 L804.38,536.99 L804.88,534.60 L805.40,532.50 L805.96,530.53 L806.53,528.60 L807.11,526.67 L807.69,524.72 L808.27,522.73 L808.85,520.68 L809.43,518.55 L810.00,516.30 L810.74,513.09 L811.50,509.54 L812.26,505.79 L813.01,501.96 L813.75,498.18 L814.46,494.59 L815.15,491.32 L815.80,488.50 L816.15,487.04 L816.47,485.66 L816.77,484.36 L817.06,483.14 L817.37,481.99 L817.70,480.93 L818.07,479.93 L818.50,479.00 L818.84,478.34 L819.19,477.67 L819.57,477.01 L819.96,476.41 L820.36,475.88 L820.76,475.46 L821.18,475.19 L821.60,475.10 L822.15,475.29 L822.72,475.80 L823.32,476.56 L823.92,477.49 L824.53,478.53 L825.13,479.61 L825.73,480.65 L826.30,481.60 L826.88,482.62 L827.41,483.76 L827.93,484.95 L828.44,486.14 L828.97,487.28 L829.55,488.29 L830.18,489.11 L830.90,489.70 L831.54,489.94 L832.25,489.98 L833.01,489.90 L833.78,489.75 L834.56,489.59 L835.32,489.49 L836.04,489.51 L836.70,489.70 L837.38,490.10 L838.03,490.61 L838.64,491.21 L839.22,491.92 L839.77,492.70 L840.30,493.57 L840.81,494.50 L841.30,495.50 L842.06,497.43 L842.72,499.69 L843.29,502.21 L843.81,504.93 L844.30,507.76 L844.80,510.65 L845.32,513.52 L845.90,516.30 L846.59,519.64 L847.32,523.51 L848.07,527.62 L848.82,531.66 L849.58,535.33 L850.31,538.33 L851.03,540.35 L851.70,541.10 L852.17,540.76 L852.64,539.80 L853.10,538.34 L853.55,536.51 L853.98,534.43 L854.40,532.22 L854.81,530.00 L855.20,527.90 L855.74,524.73 L856.23,521.23 L856.68,517.48 L857.10,513.56 L857.51,509.55 L857.90,505.53 L858.29,501.59 L858.70,497.80 L859.10,494.36 L859.51,491.07 L859.92,487.86 L860.32,484.63 L860.70,481.32 L861.07,477.83 L861.40,474.08 L861.70,470.00 L862.06,462.70 L862.30,454.54 L862.44,445.73 L862.53,436.48 L862.63,427.02 L862.76,417.54 L862.97,408.26 L863.30,399.40 L863.74,391.30 L864.26,383.29 L864.85,375.34 L865.48,367.43 L866.12,359.56 L866.75,351.71 L867.36,343.86 L867.90,336.00 L868.39,328.18 L868.85,320.29 L869.30,312.38 L869.73,304.50 L870.15,296.69 L870.57,289.01 L870.98,281.49 L871.40,274.20 L871.75,267.87 L872.08,261.38 L872.41,254.89 L872.73,248.56 L873.06,242.54 L873.41,236.99 L873.79,232.05 L874.20,227.90 L874.40,226.10 L874.59,224.29 L874.78,222.55 L874.98,220.95 L875.19,219.57 L875.43,218.49 L875.70,217.77 L876.00,217.50 L876.36,217.73 L876.78,218.42 L877.23,219.50 L877.70,220.88 L878.17,222.49 L878.64,224.25 L879.09,226.08 L879.50,227.90 L880.25,232.04 L880.93,236.96 L881.55,242.51 L882.11,248.53 L882.64,254.87 L883.13,261.36 L883.62,267.86 L884.10,274.20 L884.63,281.53 L885.10,289.14 L885.54,296.95 L885.95,304.88 L886.35,312.83 L886.75,320.72 L887.16,328.47 L887.60,336.00 L888.04,342.85 L888.52,349.81 L889.02,356.76 L889.52,363.60 L889.99,370.24 L890.42,376.57 L890.80,382.49 L891.10,387.90 L891.22,391.39 L891.28,395.07 L891.29,398.73 L891.30,402.18 L891.33,405.23 L891.40,407.66 L891.55,409.28 L891.80,409.90 L891.96,409.71 L892.13,409.19 L892.32,408.43 L892.52,407.57 L892.73,406.69 L892.95,405.93 L893.17,405.40 L893.40,405.20 L893.79,405.57 L894.21,406.55 L894.66,408.02 L895.12,409.85 L895.58,411.89 L896.04,414.02 L896.48,416.10 L896.90,418.00 L897.37,420.44 L897.83,423.35 L898.28,426.48 L898.71,429.59 L899.13,432.43 L899.53,434.76 L899.92,436.33 L900.30,436.90 L900.83,435.62 L901.32,432.17 L901.77,427.07 L902.20,420.84 L902.61,413.98 L903.01,407.01 L903.40,400.44 L903.80,394.80 L904.16,390.26 L904.51,385.75 L904.85,381.29 L905.18,376.88 L905.51,372.53 L905.84,368.27 L906.17,364.08 L906.50,360.00 L906.79,356.68 L907.08,353.61 L907.37,350.69 L907.66,347.78 L907.94,344.78 L908.23,341.56 L908.52,338.00 L908.80,334.00 L909.32,324.84 L909.82,313.96 L910.30,301.83 L910.79,288.94 L911.29,275.77 L911.81,262.80 L912.38,250.52 L913.00,239.40 L913.49,231.17 L913.95,222.84 L914.41,214.60 L914.91,206.65 L915.45,199.18 L916.08,192.39 L916.82,186.46 L917.70,181.60 L918.14,179.72 L918.61,177.86 L919.11,176.09 L919.62,174.49 L920.13,173.12 L920.64,172.07 L921.14,171.41 L921.60,171.20 L922.36,172.16 L923.08,174.67 L923.77,178.41 L924.43,183.07 L925.07,188.35 L925.69,193.92 L926.30,199.47 L926.90,204.70 L927.72,212.21 L928.49,220.39 L929.21,229.09 L929.91,238.13 L930.59,247.33 L931.27,256.52 L931.97,265.54 L932.70,274.20 L933.41,282.32 L934.13,290.65 L934.85,299.03 L935.57,307.31 L936.30,315.30 L937.04,322.86 L937.77,329.81 L938.50,336.00 L938.91,339.31 L939.29,342.39 L939.65,345.28 L940.02,348.00 L940.42,350.59 L940.87,353.06 L941.39,355.46 L942.00,357.80 L942.54,359.74 L943.13,361.81 L943.75,363.89 L944.41,365.87 L945.10,367.64 L945.81,369.08 L946.55,370.07 L947.30,370.50 L947.88,370.35 L948.45,369.80 L949.04,368.96 L949.64,367.94 L950.27,366.86 L950.93,365.82 L951.64,364.93 L952.40,364.30 L953.19,363.98 L954.05,363.82 L954.97,363.78 L955.91,363.79 L956.84,363.78 L957.76,363.71 L958.62,363.50 L959.40,363.10 L960.31,362.33 L961.15,361.35 L961.94,360.20 L962.68,358.91 L963.36,357.53 L963.99,356.07 L964.57,354.58 L965.10,353.10 L965.65,351.19 L966.08,349.11 L966.42,346.91 L966.68,344.64 L966.92,342.37 L967.14,340.13 L967.39,337.99 L967.70,336.00 L967.97,334.53 L968.24,333.16 L968.51,331.85 L968.78,330.56 L969.06,329.27 L969.35,327.94 L969.66,326.53 L970.00,325.00 L970.51,322.42 L971.07,319.27 L971.66,315.83 L972.28,312.38 L972.92,309.19 L973.56,306.55 L974.19,304.73 L974.80,304.00 L975.08,304.08 L975.37,304.36 L975.66,304.81 L975.94,305.37 L976.23,306.02 L976.50,306.70 L976.76,307.37 L977.00,308.00 L977.28,308.74 L977.53,309.48 L977.75,310.24 L977.97,311.05 L978.17,311.91 L978.37,312.84 L978.58,313.87 L978.80,315.00 L979.27,317.73 L979.74,320.96 L980.22,324.60 L980.70,328.53 L981.18,332.65 L981.64,336.84 L982.08,340.99 L982.50,345.00 L982.92,349.24 L983.32,353.56 L983.69,357.92 L984.05,362.33 L984.40,366.75 L984.75,371.19 L985.12,375.61 L985.50,380.00 L985.89,384.39 L986.29,388.82 L986.68,393.25 L987.09,397.67 L987.50,402.08 L987.92,406.44 L988.35,410.76 L988.80,415.00 L989.23,418.95 L989.68,422.97 L990.13,427.00 L990.60,430.96 L991.07,434.81 L991.55,438.47 L992.02,441.89 L992.50,445.00 L992.81,446.86 L993.11,448.63 L993.41,450.32 L993.71,451.92 L994.02,453.44 L994.34,454.87 L994.66,456.23 L995.00,457.50 L995.25,458.29 L995.51,458.99 L995.78,459.63 L996.06,460.25 L996.33,460.87 L996.58,461.52 L996.81,462.22 L997.00,463.00 L997.21,464.23 L997.36,465.53 L997.47,466.90 L997.53,468.35 L997.59,469.88 L997.64,471.49 L997.70,473.20 L997.80,475.00 L997.99,478.23 L998.18,481.91 L998.38,485.89 L998.59,490.06 L998.82,494.28 L999.08,498.43 L999.37,502.38 L999.70,506.00 L999.98,508.91 L1000.28,512.08 L1000.60,515.30 L1000.93,518.39 L1001.28,521.14 L1001.66,523.36 L1002.07,524.85 L1002.50,525.40 L1002.93,525.01 L1003.40,523.90 L1003.90,522.21 L1004.41,520.07 L1004.93,517.62 L1005.44,515.00 L1005.93,512.35 L1006.40,509.80 L1007.10,505.43 L1007.75,500.45 L1008.36,495.02 L1008.94,489.31 L1009.53,483.49 L1010.12,477.72 L1010.74,472.17 L1011.40,467.00 L1011.99,462.73 L1012.57,458.42 L1013.16,454.13 L1013.77,449.95 L1014.40,445.95 L1015.06,442.20 L1015.76,438.79 L1016.50,435.80 L1016.95,434.17 L1017.43,432.50 L1017.91,430.87 L1018.41,429.36 L1018.91,428.05 L1019.41,427.02 L1019.91,426.34 L1020.40,426.10 L1020.89,426.34 L1021.40,427.02 L1021.90,428.05 L1022.40,429.36 L1022.90,430.87 L1023.39,432.50 L1023.85,434.17 L1024.30,435.80 L1025.01,438.85 L1025.65,442.40 L1026.24,446.31 L1026.79,450.47 L1027.32,454.74 L1027.86,459.01 L1028.41,463.14 L1029.00,467.00 L1029.54,470.36 L1030.05,473.76 L1030.56,477.13 L1031.09,480.46 L1031.63,483.68 L1032.22,486.76 L1032.87,489.64 L1033.60,492.30 L1034.15,494.04 L1034.71,495.70 L1035.30,497.28 L1035.91,498.78 L1036.55,500.20 L1037.22,501.54 L1037.94,502.81 L1038.70,504.00 L1039.36,504.87 L1040.07,505.65 L1040.81,506.37 L1041.57,507.04 L1042.34,507.70 L1043.09,508.36 L1043.82,509.05 L1044.50,509.80 L1045.14,510.68 L1045.75,511.71 L1046.33,512.81 L1046.91,513.89 L1047.47,514.88 L1048.04,515.70 L1048.61,516.27 L1049.20,516.50 L1049.74,516.43 L1050.30,516.16 L1050.86,515.71 L1051.42,515.12 L1051.98,514.41 L1052.52,513.60 L1053.03,512.72 L1053.50,511.80 L1054.39,509.50 L1055.14,506.70 L1055.76,503.44 L1056.30,499.80 L1056.78,495.84 L1057.24,491.61 L1057.70,487.17 L1058.20,482.60 L1059.05,474.00 L1059.83,464.16 L1060.55,453.40 L1061.23,442.04 L1061.89,430.40 L1062.56,418.78 L1063.26,407.51 L1064.00,396.90 L1064.71,387.46 L1065.45,377.72 L1066.20,367.93 L1066.96,358.33 L1067.72,349.17 L1068.47,340.68 L1069.20,333.11 L1069.90,326.70 L1070.22,324.00 L1070.52,321.50 L1070.82,319.19 L1071.11,317.07 L1071.41,315.10 L1071.74,313.27 L1072.10,311.58 L1072.50,310.00 L1072.76,309.04 L1073.03,308.07 L1073.31,307.12 L1073.60,306.23 L1073.90,305.46 L1074.21,304.83 L1074.55,304.40 L1074.90,304.20 L1075.20,304.23 L1075.52,304.40 L1075.85,304.69 L1076.19,305.07 L1076.54,305.52 L1076.87,306.00 L1077.20,306.51 L1077.50,307.00 L1077.92,307.73 L1078.32,308.51 L1078.70,309.34 L1079.06,310.25 L1079.41,311.26 L1079.74,312.39 L1080.07,313.67 L1080.40,315.10 L1081.22,320.01 L1081.95,326.36 L1082.59,333.83 L1083.18,342.12 L1083.74,350.93 L1084.28,359.95 L1084.82,368.87 L1085.40,377.40 L1086.07,386.84 L1086.75,396.67 L1087.42,406.74 L1088.08,416.89 L1088.72,426.98 L1089.34,436.85 L1089.94,446.34 L1090.50,455.30 L1090.92,462.17 L1091.30,468.95 L1091.66,475.58 L1092.01,482.02 L1092.36,488.23 L1092.72,494.16 L1093.09,499.77 L1093.50,505.00 L1093.79,508.62 L1094.10,512.48 L1094.41,516.34 L1094.73,519.99 L1095.05,523.21 L1095.37,525.78 L1095.68,527.48 L1096.00,528.10 L1096.32,527.48 L1096.64,525.78 L1096.97,523.21 L1097.29,519.99 L1097.61,516.34 L1097.92,512.48 L1098.22,508.63 L1098.50,505.00 L1098.88,499.90 L1099.21,494.61 L1099.52,489.08 L1099.81,483.23 L1100.09,476.99 L1100.38,470.30 L1100.68,463.09 L1101.00,455.30 L1101.66,437.67 L1102.37,416.12 L1103.11,392.00 L1103.88,366.66 L1104.65,341.44 L1105.42,317.70 L1106.17,296.77 L1106.90,280.00 L1107.24,273.61 L1107.58,268.03 L1107.91,263.03 L1108.24,258.40 L1108.58,253.94 L1108.91,249.43 L1109.25,244.65 L1109.60,239.40 L1110.04,232.33 L1110.51,224.71 L1110.99,216.77 L1111.47,208.72 L1111.94,200.79 L1112.37,193.20 L1112.76,186.16 L1113.10,179.90 L1113.28,176.32 L1113.44,172.98 L1113.57,169.82 L1113.70,166.82 L1113.82,163.94 L1113.94,161.13 L1114.06,158.37 L1114.20,155.60 L1114.32,153.27 L1114.44,150.97 L1114.56,148.71 L1114.69,146.50 L1114.81,144.34 L1114.94,142.25 L1115.07,140.24 L1115.20,138.30 L1115.30,136.86 L1115.40,135.50 L1115.50,134.18 L1115.60,132.90 L1115.70,131.64 L1115.82,130.38 L1115.95,129.11 L1116.10,127.80 L1116.27,126.42 L1116.45,125.03 L1116.64,123.63 L1116.84,122.22 L1117.06,120.82 L1117.29,119.43 L1117.54,118.06 L1117.80,116.70 L1118.07,115.28 L1118.37,113.69 L1118.68,112.03 L1119.00,110.41 L1119.33,108.96 L1119.66,107.78 L1119.98,106.99 L1120.30,106.70 L1120.62,106.99 L1120.96,107.78 L1121.30,108.96 L1121.64,110.41 L1121.97,112.02 L1122.27,113.69 L1122.56,115.28 L1122.80,116.70 L1123.01,118.06 L1123.19,119.43 L1123.34,120.82 L1123.46,122.22 L1123.58,123.63 L1123.68,125.03 L1123.79,126.42 L1123.90,127.80 L1124.01,129.11 L1124.11,130.38 L1124.21,131.64 L1124.30,132.90 L1124.39,134.18 L1124.49,135.50 L1124.59,136.86 L1124.70,138.30 L1124.85,140.24 L1125.01,142.25 L1125.18,144.34 L1125.35,146.50 L1125.53,148.71 L1125.71,150.97 L1125.90,153.27 L1126.10,155.60 L1126.35,158.37 L1126.61,161.13 L1126.89,163.94 L1127.17,166.82 L1127.45,169.82 L1127.74,172.97 L1128.02,176.32 L1128.30,179.90 L1128.72,186.02 L1129.13,192.72 L1129.54,199.89 L1129.94,207.45 L1130.35,215.27 L1130.76,223.28 L1131.17,231.35 L1131.60,239.40 L1132.10,249.04 L1132.61,259.21 L1133.13,269.71 L1133.65,280.33 L1134.17,290.87 L1134.71,301.13 L1135.25,310.91 L1135.80,320.00 L1136.22,326.49 L1136.65,332.80 L1137.07,338.90 L1137.50,344.81 L1137.94,350.51 L1138.39,355.99 L1138.84,361.26 L1139.30,366.30 L1139.63,369.96 L1139.95,373.60 L1140.26,377.14 L1140.58,380.55 L1140.92,383.78 L1141.29,386.76 L1141.71,389.45 L1142.20,391.80 L1142.49,392.99 L1142.81,394.19 L1143.15,395.36 L1143.49,396.43 L1143.84,397.36 L1144.18,398.08 L1144.50,398.55 L1144.80,398.70 L1145.18,398.27 L1145.52,397.16 L1145.84,395.53 L1146.14,393.52 L1146.44,391.29 L1146.74,388.99 L1147.06,386.77 L1147.40,384.80 L1147.79,382.84 L1148.19,380.85 L1148.61,378.83 L1149.03,376.81 L1149.46,374.76 L1149.90,372.71 L1150.34,370.66 L1150.80,368.60 L1151.27,366.39 L1151.73,364.05 L1152.19,361.66 L1152.66,359.28 L1153.16,356.99 L1153.69,354.85 L1154.27,352.93 L1154.90,351.30 L1155.29,350.46 L1155.67,349.66 L1156.07,348.91 L1156.48,348.23 L1156.92,347.62 L1157.38,347.10 L1157.87,346.69 L1158.40,346.40 L1158.91,346.30 L1159.47,346.35 L1160.07,346.51 L1160.68,346.74 L1161.29,346.97 L1161.89,347.15 L1162.47,347.25 L1163.00,347.20 L1163.49,347.02 L1163.95,346.77 L1164.40,346.45 L1164.83,346.08 L1165.25,345.66 L1165.67,345.22 L1166.08,344.76 L1166.50,344.30 L1167.01,343.66 L1167.51,342.93 L1168.00,342.13 L1168.49,341.30 L1168.97,340.49 L1169.46,339.73 L1169.97,339.05 L1170.50,338.50 L1170.90,338.15 L1171.32,337.82 L1171.74,337.50 L1172.17,337.22 L1172.59,337.00 L1173.01,336.84 L1173.41,336.77 L1173.80,336.80 L1174.23,336.97 L1174.65,337.28 L1175.06,337.70 L1175.46,338.22 L1175.84,338.81 L1176.21,339.45 L1176.56,340.12 L1176.90,340.80 L1177.37,341.91 L1177.79,343.16 L1178.16,344.53 L1178.51,345.99 L1178.83,347.53 L1179.14,349.12 L1179.46,350.75 L1179.80,352.40 L1180.24,354.59 L1180.66,356.90 L1181.08,359.30 L1181.49,361.78 L1181.90,364.31 L1182.32,366.87 L1182.75,369.44 L1183.20,372.00 L1183.71,374.78 L1184.25,377.60 L1184.81,380.45 L1185.37,383.32 L1185.93,386.22 L1186.47,389.13 L1187.00,392.06 L1187.50,395.00 L1187.98,398.10 L1188.44,401.27 L1188.88,404.49 L1189.30,407.71 L1189.72,410.90 L1190.13,414.04 L1190.56,417.08 L1191.00,420.00 L1191.34,422.56 L1191.61,425.35 L1191.86,428.20 L1192.13,430.94 L1192.45,433.42 L1192.86,435.46 L1193.40,436.91 L1194.10,437.60 L1194.70,437.60 L1195.39,437.30 L1196.16,436.74 L1196.95,435.98 L1197.76,435.06 L1198.54,434.04 L1199.26,432.97 L1199.90,431.90 L1200.77,429.99 L1201.51,427.73 L1202.15,425.20 L1202.69,422.47 L1203.18,419.61 L1203.62,416.69 L1204.06,413.80 L1204.50,411.00 L1204.95,407.71 L1205.34,403.88 L1205.69,399.82 L1206.00,395.83 L1206.31,392.20 L1206.61,389.24 L1206.94,387.24 L1207.30,386.50 L1207.65,387.41 L1207.99,389.81 L1208.32,393.21 L1208.67,397.10 L1209.04,401.01 L1209.44,404.43 L1209.89,406.85 L1210.40,407.80 L1210.89,407.36 L1211.44,406.09 L1212.02,404.21 L1212.63,401.91 L1213.24,399.38 L1213.85,396.84 L1214.44,394.48 L1215.00,392.50 L1215.44,390.97 L1215.87,389.29 L1216.29,387.56 L1216.70,385.91 L1217.11,384.43 L1217.52,383.25 L1217.91,382.47 L1218.30,382.20 L1218.83,382.83 L1219.35,384.51 L1219.86,386.99 L1220.35,390.04 L1220.83,393.44 L1221.30,396.93 L1221.75,400.30 L1222.20,403.30 L1222.67,406.25 L1223.12,409.22 L1223.55,412.22 L1223.98,415.24 L1224.39,418.31 L1224.80,421.42 L1225.20,424.58 L1225.60,427.80 L1226.04,431.50 L1226.47,435.29 L1226.88,439.14 L1227.29,443.05 L1227.69,446.99 L1228.10,450.96 L1228.50,454.94 L1228.90,458.90 L1229.31,463.08 L1229.70,467.39 L1230.08,471.76 L1230.46,476.13 L1230.86,480.43 L1231.27,484.59 L1231.72,488.53 L1232.20,492.20 L1232.57,494.77 L1232.93,497.28 L1233.31,499.73 L1233.70,502.08 L1234.11,504.30 L1234.56,506.38 L1235.05,508.29 L1235.60,510.00 L1235.96,511.00 L1236.32,511.99 L1236.69,512.95 L1237.07,513.84 L1237.48,514.63 L1237.92,515.27 L1238.39,515.74 L1238.90,516.00 L1239.39,516.03 L1239.93,515.89 L1240.50,515.61 L1241.09,515.23 L1241.68,514.77 L1242.25,514.28 L1242.80,513.78 L1243.30,513.30 L1243.78,512.76 L1244.21,512.15 L1244.60,511.49 L1244.98,510.80 L1245.36,510.11 L1245.76,509.43 L1246.20,508.78 L1246.70,508.20 L1247.30,507.67 L1247.97,507.20 L1248.68,506.78 L1249.42,506.37 L1250.16,505.95 L1250.88,505.50 L1251.57,504.99 L1252.20,504.40 L1252.87,503.64 L1253.49,502.83 L1254.09,501.96 L1254.65,501.05 L1255.19,500.06 L1255.71,499.02 L1256.21,497.90 L1256.70,496.70 L1257.40,494.71 L1258.04,492.50 L1258.63,490.11 L1259.18,487.57 L1259.69,484.93 L1260.17,482.21 L1260.64,479.45 L1261.10,476.70 L1261.61,473.32 L1262.06,469.77 L1262.47,466.10 L1262.84,462.35 L1263.21,458.60 L1263.58,454.88 L1263.97,451.26 L1264.40,447.80 L1264.80,444.84 L1265.20,441.91 L1265.60,439.00 L1266.01,436.16 L1266.44,433.37 L1266.88,430.68 L1267.33,428.08 L1267.80,425.60 L1268.18,423.76 L1268.57,422.00 L1268.97,420.31 L1269.37,418.67 L1269.79,417.06 L1270.21,415.46 L1270.65,413.84 L1271.10,412.20 L1271.62,410.35 L1272.24,408.24 L1272.90,406.04 L1273.56,403.88 L1274.15,401.94 L1274.64,400.36 L1274.98,399.29 L1275.10,398.90" stroke="#0000ff"/>
</g>
<g stroke="#262626" stroke-opacity="0.11" stroke-width="1"><line x1="220.70" y1="17.5" x2="220.70" y2="621.9"/><line x1="337.90" y1="17.5" x2="337.90" y2="621.9"/><line x1="455.10" y1="17.5" x2="455.10" y2="621.9"/><line x1="572.30" y1="17.5" x2="572.30" y2="621.9"/><line x1="689.50" y1="17.5" x2="689.50" y2="621.9"/><line x1="806.70" y1="17.5" x2="806.70" y2="621.9"/><line x1="923.90" y1="17.5" x2="923.90" y2="621.9"/><line x1="1041.10" y1="17.5" x2="1041.10" y2="621.9"/><line x1="1158.30" y1="17.5" x2="1158.30" y2="621.9"/><line x1="103.5" y1="138.45" x2="1275.5" y2="138.45"/><line x1="103.5" y1="259.10" x2="1275.5" y2="259.10"/><line x1="103.5" y1="380.45" x2="1275.5" y2="380.45"/><line x1="103.5" y1="500.45" x2="1275.5" y2="500.45"/></g>
<g stroke="#5a5a5a" stroke-width="1"><line x1="103.50" y1="621.9" x2="103.50" y2="610.1999999999999"/><line x1="103.50" y1="17.5" x2="103.50" y2="29.2"/><line x1="220.70" y1="621.9" x2="220.70" y2="610.1999999999999"/><line x1="220.70" y1="17.5" x2="220.70" y2="29.2"/><line x1="337.90" y1="621.9" x2="337.90" y2="610.1999999999999"/><line x1="337.90" y1="17.5" x2="337.90" y2="29.2"/><line x1="455.10" y1="621.9" x2="455.10" y2="610.1999999999999"/><line x1="455.10" y1="17.5" x2="455.10" y2="29.2"/><line x1="572.30" y1="621.9" x2="572.30" y2="610.1999999999999"/><line x1="572.30" y1="17.5" x2="572.30" y2="29.2"/><line x1="689.50" y1="621.9" x2="689.50" y2="610.1999999999999"/><line x1="689.50" y1="17.5" x2="689.50" y2="29.2"/><line x1="806.70" y1="621.9" x2="806.70" y2="610.1999999999999"/><line x1="806.70" y1="17.5" x2="806.70" y2="29.2"/><line x1="923.90" y1="621.9" x2="923.90" y2="610.1999999999999"/><line x1="923.90" y1="17.5" x2="923.90" y2="29.2"/><line x1="1041.10" y1="621.9" x2="1041.10" y2="610.1999999999999"/><line x1="1041.10" y1="17.5" x2="1041.10" y2="29.2"/><line x1="1158.30" y1="621.9" x2="1158.30" y2="610.1999999999999"/><line x1="1158.30" y1="17.5" x2="1158.30" y2="29.2"/><line x1="1275.50" y1="621.9" x2="1275.50" y2="610.1999999999999"/><line x1="1275.50" y1="17.5" x2="1275.50" y2="29.2"/><line x1="103.5" y1="621.90" x2="115.2" y2="621.90"/><line x1="1275.5" y1="621.90" x2="1263.8" y2="621.90"/><line x1="103.5" y1="500.45" x2="115.2" y2="500.45"/><line x1="1275.5" y1="500.45" x2="1263.8" y2="500.45"/><line x1="103.5" y1="380.45" x2="115.2" y2="380.45"/><line x1="1275.5" y1="380.45" x2="1263.8" y2="380.45"/><line x1="103.5" y1="259.10" x2="115.2" y2="259.10"/><line x1="1275.5" y1="259.10" x2="1263.8" y2="259.10"/><line x1="103.5" y1="138.45" x2="115.2" y2="138.45"/><line x1="1275.5" y1="138.45" x2="1263.8" y2="138.45"/><line x1="103.5" y1="17.50" x2="115.2" y2="17.50"/><line x1="1275.5" y1="17.50" x2="1263.8" y2="17.50"/></g>
<rect x="103.5" y="17.5" width="1172.0" height="604.4" fill="none" stroke="#707070" stroke-width="1"/>
<g class="tk"><text transform="translate(94.88,661.50) scale(1,1.05)">0</text><path transform="translate(212.08,661.50)" d="M9.0,0 L11.7,0 L11.7,-22.2 L9.6,-22.2 C9.0,-20.0 7.5,-18.5 5.5,-17.6 C4.8,-17.3 4.0,-17.0 3.4,-16.9 L3.4,-14.4 C5.5,-14.8 7.6,-15.6 9.0,-16.8 Z"/><text transform="translate(329.28,661.50) scale(1,1.05)">2</text><text transform="translate(446.48,661.50) scale(1,1.05)">3</text><text transform="translate(563.68,661.50) scale(1,1.05)">4</text><text transform="translate(680.88,661.50) scale(1,1.05)">5</text><text transform="translate(798.08,661.50) scale(1,1.05)">6</text><text transform="translate(915.28,661.50) scale(1,1.05)">7</text><text transform="translate(1032.48,661.50) scale(1,1.05)">8</text><text transform="translate(1149.68,661.50) scale(1,1.05)">9</text><path transform="translate(1258.26,661.50)" d="M9.0,0 L11.7,0 L11.7,-22.2 L9.6,-22.2 C9.0,-20.0 7.5,-18.5 5.5,-17.6 C4.8,-17.3 4.0,-17.0 3.4,-16.9 L3.4,-14.4 C5.5,-14.8 7.6,-15.6 9.0,-16.8 Z"/><text transform="translate(1275.50,661.50) scale(1,1.05)">0</text><text transform="translate(50.70,634.50) scale(1,1.05)">-</text><path transform="translate(61.02,634.50)" d="M9.0,0 L11.7,0 L11.7,-22.2 L9.6,-22.2 C9.0,-20.0 7.5,-18.5 5.5,-17.6 C4.8,-17.3 4.0,-17.0 3.4,-16.9 L3.4,-14.4 C5.5,-14.8 7.6,-15.6 9.0,-16.8 Z"/><text transform="translate(78.26,634.50) scale(1,1.05)">0</text><text transform="translate(67.94,513.05) scale(1,1.05)">-</text><text transform="translate(78.26,513.05) scale(1,1.05)">5</text><text transform="translate(78.26,393.05) scale(1,1.05)">0</text><text transform="translate(78.26,271.70) scale(1,1.05)">5</text><path transform="translate(61.02,151.05)" d="M9.0,0 L11.7,0 L11.7,-22.2 L9.6,-22.2 C9.0,-20.0 7.5,-18.5 5.5,-17.6 C4.8,-17.3 4.0,-17.0 3.4,-16.9 L3.4,-14.4 C5.5,-14.8 7.6,-15.6 9.0,-16.8 Z"/><text transform="translate(78.26,151.05) scale(1,1.05)">0</text><path transform="translate(61.02,30.10)" d="M9.0,0 L11.7,0 L11.7,-22.2 L9.6,-22.2 C9.0,-20.0 7.5,-18.5 5.5,-17.6 C4.8,-17.3 4.0,-17.0 3.4,-16.9 L3.4,-14.4 C5.5,-14.8 7.6,-15.6 9.0,-16.8 Z"/><text transform="translate(78.26,30.10) scale(1,1.05)">5</text></g>
<g fill="#262626" font-family="Liberation Serif,serif" font-size="42">
<text x="573.2" y="702.5" font-size="41.5">time</text>
<text x="669.4" y="702.5" font-size="40">seconds</text>
<path d="M670.2,674.3 L665.4,674.3 L665.4,710.3 L670.2,710.3 M795.1,674.3 L799.9,674.3 L799.9,710.3 L795.1,710.3" fill="none" stroke="#262626" stroke-width="1.6"/>
</g>
<g transform="translate(34.9,410) rotate(-90)" fill="#262626">
<g transform="translate(0,0)" fill="#000" font-family="Liberation Serif,serif"><path d="M1.0,-10.4 C2.2,-13.6 4.6,-16.6 9.0,-16.6 L19.0,-16.6 C19.4,-16.6 19.4,-14.3 19.0,-14.3 L9.4,-14.3 C5.6,-14.3 3.2,-12.8 1.6,-10.0 C1.4,-9.7 0.9,-10.0 1.0,-10.4 Z M10.2,-15.6 L12.2,-15.6 L8.4,-1.6 C7.9,0.3 5.3,0.3 5.7,-1.4 Z"/><text x="17.3" y="5.5" font-size="25.5">2</text><path d="M44.3,-28.8 C38.6,-24.2 35.1,-17.6 35.1,-10 C35.1,-2.4 38.6,4.2 44.3,8.9 L44.7,8.4 C40.4,3.6 37.5,-2.8 37.5,-10 C37.5,-17.2 40.4,-23.6 44.7,-28.3 Z"/><path d="M62.4,-28.8 C68.1,-24.2 71.6,-17.6 71.6,-10 C71.6,-2.4 68.1,4.2 62.4,8.9 L62.0,8.4 C66.3,3.6 69.2,-2.8 69.2,-10 C69.2,-17.2 66.3,-23.6 62.0,-28.3 Z"/><path d="M55.6,-23.8 L49.4,-4.2 C48.7,-1.4 49.9,0.1 51.8,0 C54.3,-0.2 56.5,-2.8 58,-5.9" fill="none" stroke="#000" stroke-width="2.3" stroke-linecap="round"/><path d="M46.9,-16.1 L58.6,-16.1" stroke="#000" stroke-width="1.9"/></g>
<text x="98.3" y="0" font-size="38" font-family="Liberation Serif,serif" letter-spacing="1">N-m</text>
<path d="M97.3,-27.8 L93.2,-27.8 L93.2,8.2 L97.3,8.2 M171,-27.8 L175.1,-27.8 L175.1,8.2 L171,8.2" fill="none" stroke="#262626" stroke-width="1.6"/>
</g>
<rect x="707" y="29.5" width="218.5" height="95" fill="#fff" stroke="#7a7a7a" stroke-width="1"/>
<line x1="711" y1="54" x2="736.5" y2="54" stroke="#ff0000" stroke-width="1.8"/>
<line x1="711" y1="99.8" x2="736.5" y2="99.8" stroke="#0000ff" stroke-width="1.8"/>
<g transform="translate(738,63)" fill="#000" font-family="Liberation Serif,serif"><path d="M1.0,-10.4 C2.2,-13.6 4.6,-16.6 9.0,-16.6 L19.0,-16.6 C19.4,-16.6 19.4,-14.3 19.0,-14.3 L9.4,-14.3 C5.6,-14.3 3.2,-12.8 1.6,-10.0 C1.4,-9.7 0.9,-10.0 1.0,-10.4 Z M10.2,-15.6 L12.2,-15.6 L8.4,-1.6 C7.9,0.3 5.3,0.3 5.7,-1.4 Z"/><text x="17.3" y="5.5" font-size="25.5">2</text><path d="M44.3,-28.8 C38.6,-24.2 35.1,-17.6 35.1,-10 C35.1,-2.4 38.6,4.2 44.3,8.9 L44.7,8.4 C40.4,3.6 37.5,-2.8 37.5,-10 C37.5,-17.2 40.4,-23.6 44.7,-28.3 Z"/><path d="M62.4,-28.8 C68.1,-24.2 71.6,-17.6 71.6,-10 C71.6,-2.4 68.1,4.2 62.4,8.9 L62.0,8.4 C66.3,3.6 69.2,-2.8 69.2,-10 C69.2,-17.2 66.3,-23.6 62.0,-28.3 Z"/><path d="M55.6,-23.8 L49.4,-4.2 C48.7,-1.4 49.9,0.1 51.8,0 C54.3,-0.2 56.5,-2.8 58,-5.9" fill="none" stroke="#000" stroke-width="2.3" stroke-linecap="round"/><path d="M46.9,-16.1 L58.6,-16.1" stroke="#000" stroke-width="1.9"/><text x="75.8" y="6.2" font-size="30" font-style="italic" textLength="106" lengthAdjust="spacing">Sectorial</text></g>
<g transform="translate(738,109)" fill="#000" font-family="Liberation Serif,serif"><path d="M1.0,-10.4 C2.2,-13.6 4.6,-16.6 9.0,-16.6 L19.0,-16.6 C19.4,-16.6 19.4,-14.3 19.0,-14.3 L9.4,-14.3 C5.6,-14.3 3.2,-12.8 1.6,-10.0 C1.4,-9.7 0.9,-10.0 1.0,-10.4 Z M10.2,-15.6 L12.2,-15.6 L8.4,-1.6 C7.9,0.3 5.3,0.3 5.7,-1.4 Z"/><text x="17.3" y="5.5" font-size="25.5">2</text><path d="M44.3,-28.8 C38.6,-24.2 35.1,-17.6 35.1,-10 C35.1,-2.4 38.6,4.2 44.3,8.9 L44.7,8.4 C40.4,3.6 37.5,-2.8 37.5,-10 C37.5,-17.2 40.4,-23.6 44.7,-28.3 Z"/><path d="M62.4,-28.8 C68.1,-24.2 71.6,-17.6 71.6,-10 C71.6,-2.4 68.1,4.2 62.4,8.9 L62.0,8.4 C66.3,3.6 69.2,-2.8 69.2,-10 C69.2,-17.2 66.3,-23.6 62.0,-28.3 Z"/><path d="M55.6,-23.8 L49.4,-4.2 C48.7,-1.4 49.9,0.1 51.8,0 C54.3,-0.2 56.5,-2.8 58,-5.9" fill="none" stroke="#000" stroke-width="2.3" stroke-linecap="round"/><path d="M46.9,-16.1 L58.6,-16.1" stroke="#000" stroke-width="1.9"/><g font-size="30" font-style="italic"><text x="75.3" y="5.6">P</text><text x="96.2" y="5.6">D</text><text x="119.8" y="5.6">f</text><text x="135.5" y="5.6">f</text></g></g>
</svg>
</body></html>
